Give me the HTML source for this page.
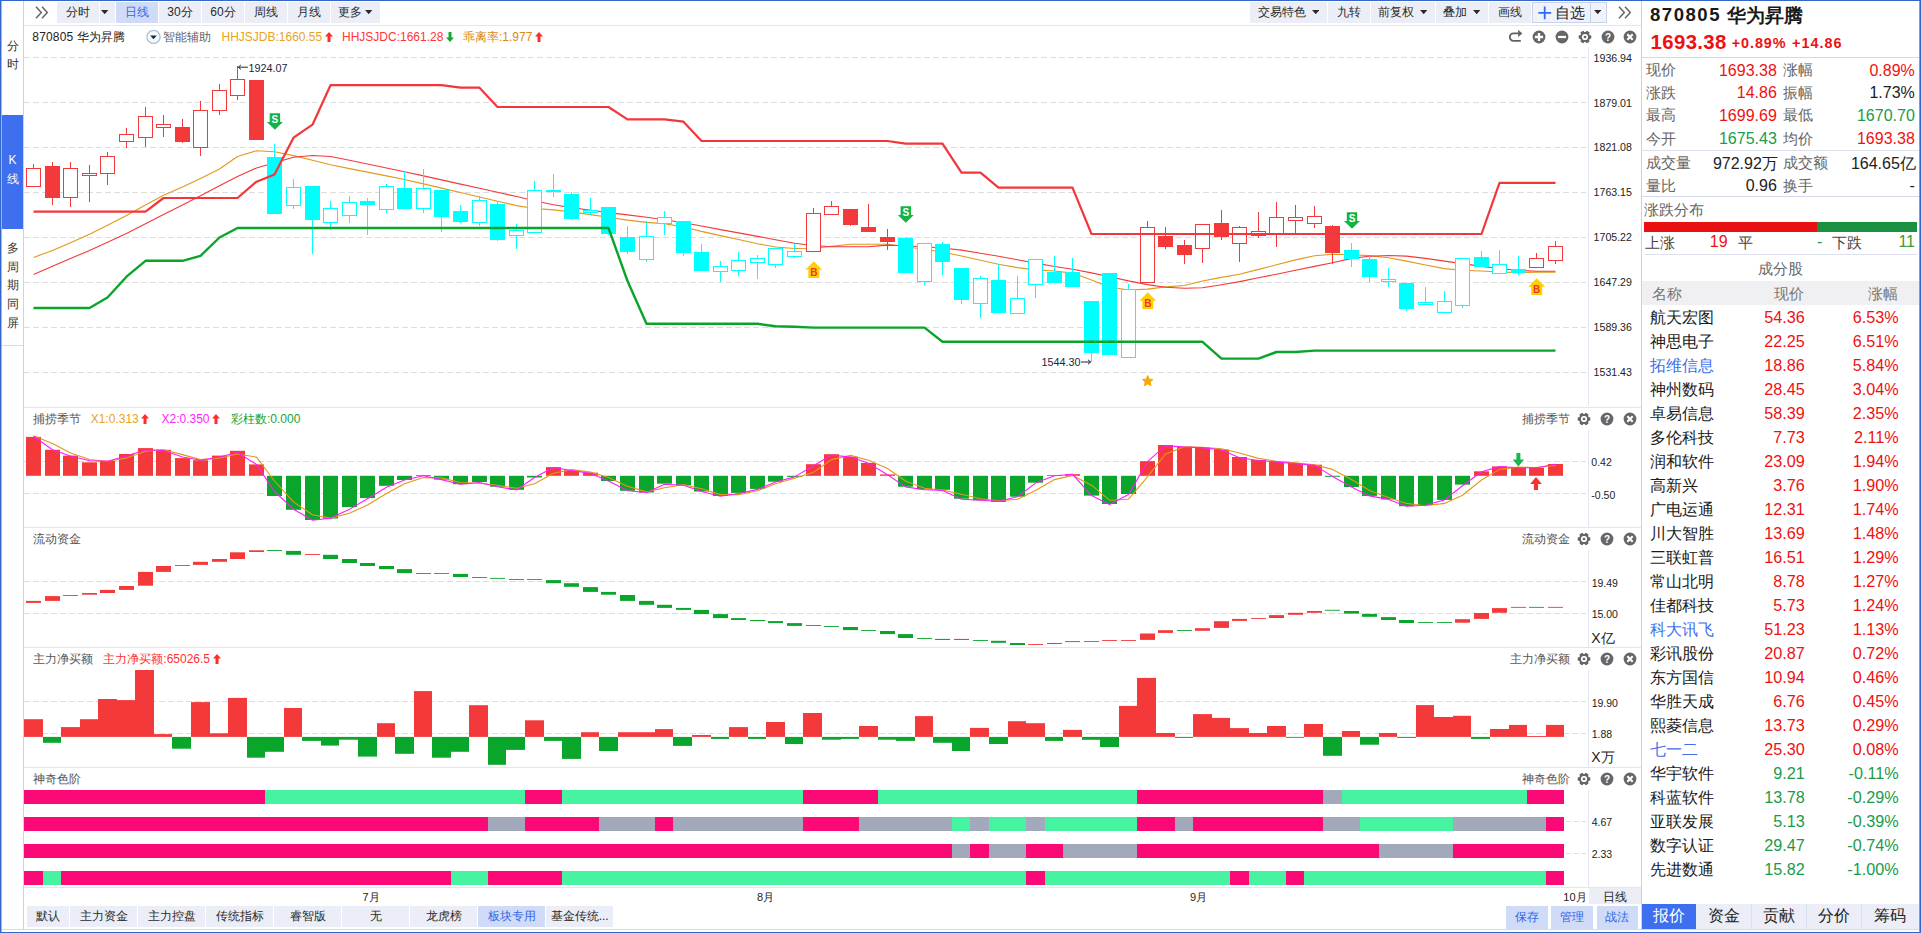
<!DOCTYPE html>
<html lang="zh"><head><meta charset="utf-8"><title>870805 华为昇腾</title><style>
html,body{margin:0;padding:0;background:#fff}
body{width:1921px;height:933px;position:relative;overflow:hidden;font-family:"Liberation Sans",sans-serif}
.t{position:absolute;white-space:nowrap;font-family:"Liberation Sans",sans-serif}
.b{position:absolute}
.bt{text-align:center}
.ar{display:inline-block;vertical-align:-1px;margin-left:2.5px}
.tri{display:inline-block;vertical-align:2px;margin-left:3px}
.b>.tri{display:block;margin:0}
</style></head><body>
<svg width="1921" height="933" viewBox="0 0 1921 933" style="position:absolute;left:0;top:0"><line x1="24" y1="57.5" x2="1586" y2="57.5" stroke="#DCDCDC" stroke-width="1" stroke-dasharray="6 3"/>
<line x1="24" y1="102.5" x2="1586" y2="102.5" stroke="#DCDCDC" stroke-width="1" stroke-dasharray="6 3"/>
<line x1="24" y1="147.5" x2="1586" y2="147.5" stroke="#DCDCDC" stroke-width="1" stroke-dasharray="6 3"/>
<line x1="24" y1="192.5" x2="1586" y2="192.5" stroke="#DCDCDC" stroke-width="1" stroke-dasharray="6 3"/>
<line x1="24" y1="237.5" x2="1586" y2="237.5" stroke="#DCDCDC" stroke-width="1" stroke-dasharray="6 3"/>
<line x1="24" y1="282.5" x2="1586" y2="282.5" stroke="#DCDCDC" stroke-width="1" stroke-dasharray="6 3"/>
<line x1="24" y1="327.5" x2="1586" y2="327.5" stroke="#DCDCDC" stroke-width="1" stroke-dasharray="6 3"/>
<line x1="24" y1="372.5" x2="1586" y2="372.5" stroke="#DCDCDC" stroke-width="1" stroke-dasharray="6 3"/>
<rect x="24" y="25" width="1617" height="1" fill="#E3E6F2"/>
<rect x="24" y="407" width="1617" height="1" fill="#E3E6F2"/>
<rect x="24" y="527" width="1617" height="1" fill="#E3E6F2"/>
<rect x="24" y="647" width="1617" height="1" fill="#E3E6F2"/>
<rect x="24" y="767" width="1617" height="1" fill="#E3E6F2"/>
<rect x="24" y="887" width="1617" height="1" fill="#E3E6F2"/>
<rect x="1588" y="47" width="1" height="359" fill="#E3E6F2"/>
<rect x="1588" y="430" width="1" height="97" fill="#E3E6F2"/>
<rect x="1588" y="550" width="1" height="97" fill="#E3E6F2"/>
<rect x="1588" y="670" width="1" height="97" fill="#E3E6F2"/>
<rect x="1588" y="790" width="1" height="97" fill="#E3E6F2"/>
<polyline points="33.5,257.4 52.5,250.5 70.5,242.7 89.5,234.3 107.5,225.2 126.5,215.4 145.5,205.1 163.5,195.3 182.5,187.1 200.5,178.6 219.5,169 237.5,156.5 256.5,150.7 274.5,151.8 293.5,155.6 312.5,160.3 330.5,164.8 349.5,168.6 367.5,172.1 386.5,175.9 404.5,179.5 423.5,183.9 441.5,188.1 460.5,192.5 479.5,197 497.5,201.2 516.5,205.6 534.5,208.5 553.5,209.9 571.5,211.9 590.5,214.6 608.5,217.3 627.5,220.1 646.5,222.4 664.5,223.6 683.5,227 701.5,231.4 720.5,235.6 738.5,239.5 757.5,243.7 775.5,247 794.5,248.5 813.5,248.3 831.5,246.4 850.5,244.3 868.5,244.3 887.5,244.3 905.5,246.8 924.5,249.3 942.5,252 961.5,256 980.5,260.3 998.5,264.2 1017.5,267.6 1035.5,269.9 1054.5,271 1072.5,273.1 1091.5,279.9 1109.5,287 1128.5,290 1147.5,289.1 1165.5,286.9 1184.5,285.5 1202.5,281 1221.5,277.4 1239.5,274.3 1258.5,269.4 1276.5,264.8 1295.5,259.9 1314.5,255.7 1332.5,254.3 1351.5,254.7 1369.5,255.6 1388.5,257.7 1406.5,261.1 1425.5,265 1444.5,268.6 1462.5,270.2 1481.5,271 1499.5,272 1518.5,272.6 1536.5,272.3 1555.5,272.2" fill="none" stroke="#E2981C" stroke-width="1.1" stroke-linejoin="round" />
<polyline points="33.5,274.6 52.5,266.3 70.5,258.5 89.5,250.5 107.5,242.2 126.5,233.4 145.5,223.7 163.5,214.5 182.5,204.9 200.5,195.8 219.5,185.7 237.5,176.4 256.5,168 274.5,162.8 293.5,157.3 312.5,155.5 330.5,156.5 349.5,160.3 367.5,164 386.5,168 404.5,171.7 423.5,175.9 441.5,179.9 460.5,184.1 479.5,188.3 497.5,192.3 516.5,196.5 534.5,200.7 553.5,204.7 571.5,207.6 590.5,210.3 608.5,212.6 627.5,214.9 646.5,217.3 664.5,219.7 683.5,222.7 701.5,226 720.5,229.6 738.5,232.9 757.5,236.4 775.5,239.8 794.5,243.3 813.5,245.5 831.5,246.7 850.5,246.7 868.5,246.7 887.5,245.1 905.5,245.7 924.5,246.8 942.5,248 961.5,250.1 980.5,253.2 998.5,256.2 1017.5,259.7 1035.5,263.1 1054.5,266.5 1072.5,269.3 1091.5,272.9 1109.5,276.7 1128.5,280.9 1147.5,284.6 1165.5,287.2 1184.5,288.3 1202.5,287.7 1221.5,284.7 1239.5,281.6 1258.5,277.8 1276.5,274.2 1295.5,270.3 1314.5,266.4 1332.5,262.7 1351.5,258.4 1369.5,256.3 1388.5,255.5 1406.5,256.1 1425.5,258.4 1444.5,261.1 1462.5,263.6 1481.5,266.4 1499.5,268.5 1518.5,270.4 1536.5,271.3 1555.5,271.3" fill="none" stroke="#F4393B" stroke-width="1.1" stroke-linejoin="round" />
<rect x="33" y="164" width="1" height="23" fill="#F4393B"/>
<rect x="26.5" y="168.5" width="14" height="18" fill="#fff" stroke="#F4393B" stroke-width="1"/>
<rect x="52" y="162" width="1" height="43" fill="#F4393B"/>
<rect x="45" y="166" width="15" height="32" fill="#F4393B"/>
<rect x="70" y="162" width="1" height="45" fill="#F4393B"/>
<rect x="63.5" y="168.5" width="14" height="29" fill="#fff" stroke="#F4393B" stroke-width="1"/>
<rect x="89" y="165" width="1" height="37" fill="#F4393B"/>
<rect x="82.5" y="173.5" width="14" height="2" fill="#fff" stroke="#F4393B" stroke-width="1"/>
<rect x="107" y="152" width="1" height="33" fill="#F4393B"/>
<rect x="100.5" y="156.5" width="14" height="17" fill="#fff" stroke="#F4393B" stroke-width="1"/>
<rect x="126" y="128" width="1" height="20" fill="#F4393B"/>
<rect x="119.5" y="134.5" width="14" height="7" fill="#fff" stroke="#F4393B" stroke-width="1"/>
<rect x="145" y="107" width="1" height="40" fill="#F4393B"/>
<rect x="138.5" y="116.5" width="14" height="21" fill="#fff" stroke="#F4393B" stroke-width="1"/>
<rect x="163" y="115" width="1" height="22" fill="#F4393B"/>
<rect x="156.5" y="124.5" width="14" height="3" fill="#fff" stroke="#F4393B" stroke-width="1"/>
<rect x="182" y="119" width="1" height="24" fill="#F4393B"/>
<rect x="175" y="127" width="15" height="15" fill="#F4393B"/>
<rect x="200" y="101" width="1" height="55" fill="#F4393B"/>
<rect x="193.5" y="110.5" width="14" height="37" fill="#fff" stroke="#F4393B" stroke-width="1"/>
<rect x="219" y="84" width="1" height="31" fill="#F4393B"/>
<rect x="212.5" y="90.5" width="14" height="20" fill="#fff" stroke="#F4393B" stroke-width="1"/>
<rect x="237" y="66" width="1" height="34" fill="#F4393B"/>
<rect x="230.5" y="79.5" width="14" height="16" fill="#fff" stroke="#F4393B" stroke-width="1"/>
<rect x="256" y="80" width="1" height="60" fill="#F4393B"/>
<rect x="249" y="80" width="15" height="60" fill="#F4393B"/>
<rect x="274" y="144" width="1" height="70" fill="#00FFFF"/>
<rect x="267" y="157" width="15" height="57" fill="#00FFFF"/>
<rect x="293" y="179" width="1" height="30" fill="#00FFFF"/>
<rect x="286.5" y="187.5" width="14" height="18" fill="#fff" stroke="#00FFFF" stroke-width="1"/>
<rect x="312" y="186" width="1" height="68" fill="#00FFFF"/>
<rect x="305" y="186" width="15" height="34" fill="#00FFFF"/>
<rect x="330" y="201" width="1" height="29" fill="#00FFFF"/>
<rect x="323.5" y="208.5" width="14" height="14" fill="#fff" stroke="#00FFFF" stroke-width="1"/>
<rect x="349" y="196" width="1" height="27" fill="#00FFFF"/>
<rect x="342.5" y="202.5" width="14" height="13" fill="#fff" stroke="#00FFFF" stroke-width="1"/>
<rect x="367" y="198" width="1" height="37" fill="#00FFFF"/>
<rect x="360" y="201" width="15" height="4" fill="#00FFFF"/>
<rect x="386" y="184" width="1" height="29" fill="#00FFFF"/>
<rect x="379.5" y="186.5" width="14" height="23" fill="#fff" stroke="#00FFFF" stroke-width="1"/>
<rect x="404" y="171" width="1" height="38" fill="#00FFFF"/>
<rect x="397" y="188" width="15" height="21" fill="#00FFFF"/>
<rect x="423" y="169" width="1" height="44" fill="#00FFFF"/>
<rect x="416.5" y="188.5" width="14" height="20" fill="#fff" stroke="#00FFFF" stroke-width="1"/>
<rect x="441" y="190" width="1" height="42" fill="#00FFFF"/>
<rect x="434" y="190" width="15" height="27" fill="#00FFFF"/>
<rect x="460" y="205" width="1" height="18" fill="#00FFFF"/>
<rect x="453" y="211" width="15" height="11" fill="#00FFFF"/>
<rect x="479" y="196" width="1" height="30" fill="#00FFFF"/>
<rect x="472.5" y="200.5" width="14" height="22" fill="#fff" stroke="#00FFFF" stroke-width="1"/>
<rect x="497" y="201" width="1" height="40" fill="#00FFFF"/>
<rect x="490" y="204" width="15" height="36" fill="#00FFFF"/>
<rect x="516" y="224" width="1" height="25" fill="#00FFFF"/>
<rect x="509.5" y="230.5" width="14" height="5" fill="#fff" stroke="#00FFFF" stroke-width="1"/>
<rect x="534" y="181" width="1" height="52" fill="#00FFFF"/>
<rect x="527.5" y="190.5" width="14" height="42" fill="#fff" stroke="#00FFFF" stroke-width="1"/>
<rect x="553" y="174" width="1" height="23" fill="#00FFFF"/>
<rect x="546" y="190" width="15" height="2" fill="#00FFFF"/>
<rect x="571" y="192" width="1" height="28" fill="#00FFFF"/>
<rect x="564" y="194" width="15" height="25" fill="#00FFFF"/>
<rect x="590" y="198" width="1" height="17" fill="#00FFFF"/>
<rect x="583.5" y="210.5" width="14" height="2" fill="#fff" stroke="#00FFFF" stroke-width="1"/>
<rect x="608" y="207" width="1" height="28" fill="#00FFFF"/>
<rect x="601" y="207" width="15" height="27" fill="#00FFFF"/>
<rect x="627" y="226" width="1" height="28" fill="#00FFFF"/>
<rect x="620" y="237" width="15" height="15" fill="#00FFFF"/>
<rect x="646" y="221" width="1" height="41" fill="#00FFFF"/>
<rect x="639.5" y="236.5" width="14" height="23" fill="#fff" stroke="#00FFFF" stroke-width="1"/>
<rect x="664" y="211" width="1" height="24" fill="#00FFFF"/>
<rect x="657.5" y="217.5" width="14" height="6" fill="#fff" stroke="#00FFFF" stroke-width="1"/>
<rect x="683" y="221" width="1" height="35" fill="#00FFFF"/>
<rect x="676" y="221" width="15" height="32" fill="#00FFFF"/>
<rect x="701" y="244" width="1" height="27" fill="#00FFFF"/>
<rect x="694" y="252" width="15" height="19" fill="#00FFFF"/>
<rect x="720" y="261" width="1" height="21" fill="#00FFFF"/>
<rect x="713.5" y="266.5" width="14" height="5" fill="#fff" stroke="#00FFFF" stroke-width="1"/>
<rect x="738" y="252" width="1" height="24" fill="#00FFFF"/>
<rect x="731.5" y="260.5" width="14" height="10" fill="#fff" stroke="#00FFFF" stroke-width="1"/>
<rect x="757" y="255" width="1" height="24" fill="#00FFFF"/>
<rect x="750.5" y="258.5" width="14" height="4" fill="#fff" stroke="#00FFFF" stroke-width="1"/>
<rect x="775" y="248" width="1" height="20" fill="#00FFFF"/>
<rect x="768.5" y="248.5" width="14" height="16" fill="#fff" stroke="#00FFFF" stroke-width="1"/>
<rect x="794" y="244" width="1" height="14" fill="#00FFFF"/>
<rect x="787.5" y="251.5" width="14" height="5" fill="#fff" stroke="#00FFFF" stroke-width="1"/>
<rect x="813" y="208" width="1" height="44" fill="#F4393B"/>
<rect x="806.5" y="213.5" width="14" height="38" fill="#fff" stroke="#F4393B" stroke-width="1"/>
<rect x="831" y="201" width="1" height="14" fill="#F4393B"/>
<rect x="824.5" y="206.5" width="14" height="8" fill="#fff" stroke="#F4393B" stroke-width="1"/>
<rect x="850" y="209" width="1" height="17" fill="#F4393B"/>
<rect x="843" y="209" width="15" height="16" fill="#F4393B"/>
<rect x="868" y="204" width="1" height="28" fill="#F4393B"/>
<rect x="861" y="227" width="15" height="5" fill="#F4393B"/>
<rect x="887" y="229" width="1" height="21" fill="#F4393B"/>
<rect x="880" y="237" width="15" height="5" fill="#F4393B"/>
<rect x="905" y="237" width="1" height="36" fill="#00FFFF"/>
<rect x="898" y="238" width="15" height="35" fill="#00FFFF"/>
<rect x="924" y="243" width="1" height="42" fill="#00FFFF"/>
<rect x="917.5" y="243.5" width="14" height="38" fill="#fff" stroke="#00FFFF" stroke-width="1"/>
<rect x="942" y="242" width="1" height="33" fill="#00FFFF"/>
<rect x="935" y="244" width="15" height="18" fill="#00FFFF"/>
<rect x="961" y="268" width="1" height="36" fill="#00FFFF"/>
<rect x="954" y="268" width="15" height="32" fill="#00FFFF"/>
<rect x="980" y="276" width="1" height="42" fill="#00FFFF"/>
<rect x="973.5" y="278.5" width="14" height="25" fill="#fff" stroke="#00FFFF" stroke-width="1"/>
<rect x="998" y="264" width="1" height="49" fill="#00FFFF"/>
<rect x="991" y="280" width="15" height="33" fill="#00FFFF"/>
<rect x="1017" y="276" width="1" height="38" fill="#00FFFF"/>
<rect x="1010.5" y="298.5" width="14" height="15" fill="#fff" stroke="#00FFFF" stroke-width="1"/>
<rect x="1035" y="259" width="1" height="39" fill="#00FFFF"/>
<rect x="1028.5" y="259.5" width="14" height="25" fill="#fff" stroke="#00FFFF" stroke-width="1"/>
<rect x="1054" y="256" width="1" height="27" fill="#00FFFF"/>
<rect x="1047" y="272" width="15" height="11" fill="#00FFFF"/>
<rect x="1072" y="258" width="1" height="29" fill="#00FFFF"/>
<rect x="1065" y="272" width="15" height="15" fill="#00FFFF"/>
<rect x="1091" y="301" width="1" height="61" fill="#00FFFF"/>
<rect x="1084" y="301" width="15" height="52" fill="#00FFFF"/>
<rect x="1109" y="273" width="1" height="82" fill="#00FFFF"/>
<rect x="1102" y="273" width="15" height="82" fill="#00FFFF"/>
<rect x="1128" y="284" width="1" height="74" fill="#00FFFF"/>
<rect x="1121.5" y="289.5" width="14" height="68" fill="#fff" stroke="#00FFFF" stroke-width="1"/>
<rect x="1147" y="221" width="1" height="62" fill="#F4393B"/>
<rect x="1140.5" y="227.5" width="14" height="55" fill="#fff" stroke="#F4393B" stroke-width="1"/>
<rect x="1165" y="227" width="1" height="22" fill="#F4393B"/>
<rect x="1158" y="236" width="15" height="11" fill="#F4393B"/>
<rect x="1184" y="240" width="1" height="24" fill="#F4393B"/>
<rect x="1177" y="245" width="15" height="10" fill="#F4393B"/>
<rect x="1202" y="224" width="1" height="39" fill="#F4393B"/>
<rect x="1195.5" y="224.5" width="14" height="24" fill="#fff" stroke="#F4393B" stroke-width="1"/>
<rect x="1221" y="210" width="1" height="30" fill="#F4393B"/>
<rect x="1214" y="223" width="15" height="14" fill="#F4393B"/>
<rect x="1239" y="226" width="1" height="36" fill="#F4393B"/>
<rect x="1232.5" y="227.5" width="14" height="16" fill="#fff" stroke="#F4393B" stroke-width="1"/>
<rect x="1258" y="212" width="1" height="26" fill="#F4393B"/>
<rect x="1251.5" y="231.5" width="14" height="4" fill="#fff" stroke="#F4393B" stroke-width="1"/>
<rect x="1276" y="202" width="1" height="45" fill="#F4393B"/>
<rect x="1269.5" y="217.5" width="14" height="16" fill="#fff" stroke="#F4393B" stroke-width="1"/>
<rect x="1295" y="205" width="1" height="29" fill="#F4393B"/>
<rect x="1288.5" y="217.5" width="14" height="3" fill="#fff" stroke="#F4393B" stroke-width="1"/>
<rect x="1314" y="206" width="1" height="22" fill="#F4393B"/>
<rect x="1307.5" y="216.5" width="14" height="7" fill="#fff" stroke="#F4393B" stroke-width="1"/>
<rect x="1332" y="225" width="1" height="39" fill="#F4393B"/>
<rect x="1325" y="226" width="15" height="27" fill="#F4393B"/>
<rect x="1351" y="243" width="1" height="24" fill="#00FFFF"/>
<rect x="1344" y="250" width="15" height="9" fill="#00FFFF"/>
<rect x="1369" y="256" width="1" height="26" fill="#00FFFF"/>
<rect x="1362" y="259" width="15" height="18" fill="#00FFFF"/>
<rect x="1388" y="268" width="1" height="19" fill="#00FFFF"/>
<rect x="1381.5" y="279.5" width="14" height="2" fill="#fff" stroke="#00FFFF" stroke-width="1"/>
<rect x="1406" y="283" width="1" height="28" fill="#00FFFF"/>
<rect x="1399" y="283" width="15" height="26" fill="#00FFFF"/>
<rect x="1425" y="287" width="1" height="18" fill="#00FFFF"/>
<rect x="1418.5" y="302.5" width="14" height="2" fill="#fff" stroke="#00FFFF" stroke-width="1"/>
<rect x="1444" y="291" width="1" height="22" fill="#00FFFF"/>
<rect x="1437.5" y="301.5" width="14" height="11" fill="#fff" stroke="#00FFFF" stroke-width="1"/>
<rect x="1462" y="258" width="1" height="50" fill="#00FFFF"/>
<rect x="1455.5" y="258.5" width="14" height="47" fill="#fff" stroke="#00FFFF" stroke-width="1"/>
<rect x="1481" y="251" width="1" height="16" fill="#00FFFF"/>
<rect x="1474" y="257" width="15" height="10" fill="#00FFFF"/>
<rect x="1499" y="250" width="1" height="24" fill="#00FFFF"/>
<rect x="1492.5" y="264.5" width="14" height="9" fill="#fff" stroke="#00FFFF" stroke-width="1"/>
<rect x="1518" y="256" width="1" height="19" fill="#00FFFF"/>
<rect x="1511" y="269" width="15" height="4" fill="#00FFFF"/>
<rect x="1536" y="253" width="1" height="15" fill="#F4393B"/>
<rect x="1529.5" y="258.5" width="14" height="9" fill="#fff" stroke="#F4393B" stroke-width="1"/>
<rect x="1555" y="241" width="1" height="23" fill="#F4393B"/>
<rect x="1548.5" y="246.5" width="14" height="14" fill="#fff" stroke="#F4393B" stroke-width="1"/>
<polyline points="33.5,211.7 52.5,211.7 70.5,211.7 89.5,211.7 107.5,211.7 126.5,211.7 145.5,211.7 163.5,198 182.5,198 200.5,198 219.5,198 237.5,198 256.5,181.7 274.5,174.5 293.5,137.7 312.5,124.7 330.5,85.2 349.5,85.2 367.5,85.2 386.5,85.2 404.5,85.2 423.5,85.2 441.5,85.2 460.5,87.7 479.5,87.7 497.5,107 516.5,107 534.5,107 553.5,107 571.5,107 590.5,107 608.5,107 627.5,119.3 646.5,119.3 664.5,119.3 683.5,121.7 701.5,141 720.5,141 738.5,141 757.5,141 775.5,141 794.5,141 813.5,141 831.5,141 850.5,141 868.5,141 887.5,141 905.5,143.7 924.5,143.7 942.5,143.7 961.5,172.7 980.5,172.7 998.5,187.7 1017.5,187.7 1035.5,187.7 1054.5,187.7 1072.5,187.7 1091.5,234 1109.5,234 1128.5,234 1147.5,234 1165.5,234 1184.5,234 1202.5,234 1221.5,234 1239.5,234 1258.5,234 1276.5,234 1295.5,234 1314.5,234 1332.5,234 1351.5,234 1369.5,234 1388.5,234 1406.5,234 1425.5,234 1444.5,234 1462.5,234 1481.5,234 1499.5,182.8 1518.5,182.8 1536.5,182.8 1555.5,182.8" fill="none" stroke="#F2373A" stroke-width="2.2" stroke-linejoin="round" />
<polyline points="33.5,308 52.5,308 70.5,308 89.5,308 107.5,297.5 126.5,276.7 145.5,260.8 163.5,260.8 182.5,260.8 200.5,255.8 219.5,237.5 237.5,228 256.5,228 274.5,228 293.5,228 312.5,228 330.5,228 349.5,228 367.5,228 386.5,228 404.5,228 423.5,228 441.5,228 460.5,228 479.5,228 497.5,228 516.5,228 534.5,228 553.5,228 571.5,228 590.5,228 608.5,228 627.5,281 646.5,323.8 664.5,323.8 683.5,323.8 701.5,323.8 720.5,323.8 738.5,323.8 757.5,323.8 775.5,326.3 794.5,326.8 813.5,327.6 831.5,327.6 850.5,327.6 868.5,327.6 887.5,327.6 905.5,327.6 924.5,327.6 942.5,341.8 961.5,341.8 980.5,341.8 998.5,341.8 1017.5,341.8 1035.5,341.8 1054.5,341.8 1072.5,341.8 1091.5,341.8 1109.5,341.8 1128.5,341.8 1147.5,341.8 1165.5,341.8 1184.5,341.8 1202.5,341.8 1221.5,358.6 1239.5,358.6 1258.5,358.6 1276.5,352 1295.5,352 1314.5,350.6 1332.5,350.6 1351.5,350.6 1369.5,350.6 1388.5,350.6 1406.5,350.6 1425.5,350.6 1444.5,350.6 1462.5,350.6 1481.5,350.6 1499.5,350.6 1518.5,350.6 1536.5,350.6 1555.5,350.6" fill="none" stroke="#0BA42A" stroke-width="2.4" stroke-linejoin="round" />
<path d="M269.7 113.2h10.4v8.8h2.8l-8 7.8l-8 -7.8h2.8z" fill="#12B347"/>
<text x="274.9" y="122.5" font-family="Liberation Sans, sans-serif" font-size="10" font-weight="700" fill="#fff" text-anchor="middle">S</text>
<path d="M900.6 206.2h10.4v8.8h2.8l-8 7.8l-8 -7.8h2.8z" fill="#12B347"/>
<text x="905.8" y="215.5" font-family="Liberation Sans, sans-serif" font-size="10" font-weight="700" fill="#fff" text-anchor="middle">S</text>
<path d="M1346.8 212.2h10.4v8.8h2.8l-8 7.8l-8 -7.8h2.8z" fill="#12B347"/>
<text x="1352" y="221.5" font-family="Liberation Sans, sans-serif" font-size="10" font-weight="700" fill="#fff" text-anchor="middle">S</text>
<path d="M813.8 261.3l8.4 8.4h-2.9v8.3h-11v-8.3h-2.9z" fill="#FFD000"/>
<text x="813.8" y="276.3" font-family="Liberation Sans, sans-serif" font-size="10" font-weight="700" fill="#F03535" text-anchor="middle">B</text>
<path d="M1147.8 292.3l8.4 8.4h-2.9v8.3h-11v-8.3h-2.9z" fill="#FFD000"/>
<text x="1147.8" y="307.3" font-family="Liberation Sans, sans-serif" font-size="10" font-weight="700" fill="#F03535" text-anchor="middle">B</text>
<path d="M1536.7 278.3l8.4 8.4h-2.9v8.3h-11v-8.3h-2.9z" fill="#FFD000"/>
<text x="1536.7" y="293.3" font-family="Liberation Sans, sans-serif" font-size="10" font-weight="700" fill="#F03535" text-anchor="middle">B</text>
<polygon points="1147.7,375.6 1149.2,379.1 1153,379.5 1150.2,382 1151,385.7 1147.7,383.8 1144.4,385.7 1145.2,382 1142.4,379.5 1146.2,379.1" fill="#F6AA0A" stroke="#F6AA0A" stroke-width="1" stroke-linejoin="round"/>
<path d="M238.3 67.2h9.6M238.3 67.2l2.6 -2.2M238.3 67.2l2.6 2.2" stroke="#1B2540" stroke-width="1" fill="none"/>
<path d="M1081 362h9.6M1090.6 362l-2.6 -2.2M1090.6 362l-2.6 2.2" stroke="#1B2540" stroke-width="1" fill="none"/>
<line x1="24" y1="461.5" x2="1586" y2="461.5" stroke="#DCDCDC" stroke-width="1" stroke-dasharray="6 3"/>
<line x1="24" y1="493.5" x2="1586" y2="493.5" stroke="#DCDCDC" stroke-width="1" stroke-dasharray="6 3"/>
<rect x="26" y="436.9" width="15" height="38.9" fill="#F4393B"/>
<rect x="45" y="449.8" width="15" height="26" fill="#F4393B"/>
<rect x="63" y="455.6" width="15" height="20.2" fill="#F4393B"/>
<rect x="82" y="462.3" width="15" height="13.5" fill="#F4393B"/>
<rect x="100" y="460.8" width="15" height="15" fill="#F4393B"/>
<rect x="119" y="454" width="15" height="21.8" fill="#F4393B"/>
<rect x="138" y="448.1" width="15" height="27.7" fill="#F4393B"/>
<rect x="156" y="449.8" width="15" height="26" fill="#F4393B"/>
<rect x="175" y="458.1" width="15" height="17.7" fill="#F4393B"/>
<rect x="193" y="460.2" width="15" height="15.6" fill="#F4393B"/>
<rect x="212" y="455.6" width="15" height="20.2" fill="#F4393B"/>
<rect x="230" y="450.8" width="15" height="25" fill="#F4393B"/>
<rect x="249" y="464.4" width="15" height="11.4" fill="#F4393B"/>
<rect x="267" y="475.8" width="15" height="20.2" fill="#0AA52B"/>
<rect x="286" y="475.8" width="15" height="34" fill="#0AA52B"/>
<rect x="305" y="475.8" width="15" height="44.2" fill="#0AA52B"/>
<rect x="323" y="475.8" width="15" height="42.7" fill="#0AA52B"/>
<rect x="342" y="475.8" width="15" height="31.3" fill="#0AA52B"/>
<rect x="360" y="475.8" width="15" height="22.3" fill="#0AA52B"/>
<rect x="379" y="475.8" width="15" height="10" fill="#0AA52B"/>
<rect x="397" y="475.8" width="15" height="4.2" fill="#0AA52B"/>
<rect x="416" y="475" width="15" height="0.8" fill="#F4393B"/>
<rect x="434" y="475.8" width="15" height="3.8" fill="#0AA52B"/>
<rect x="453" y="475.8" width="15" height="8.4" fill="#0AA52B"/>
<rect x="472" y="475.8" width="15" height="6.2" fill="#0AA52B"/>
<rect x="490" y="475.8" width="15" height="10.9" fill="#0AA52B"/>
<rect x="509" y="475.8" width="15" height="14" fill="#0AA52B"/>
<rect x="527" y="475.8" width="15" height="1.7" fill="#0AA52B"/>
<rect x="546" y="467.1" width="15" height="8.7" fill="#F4393B"/>
<rect x="564" y="470.6" width="15" height="5.2" fill="#F4393B"/>
<rect x="583" y="472.7" width="15" height="3.1" fill="#F4393B"/>
<rect x="601" y="475.8" width="15" height="5.2" fill="#0AA52B"/>
<rect x="620" y="475.8" width="15" height="15" fill="#0AA52B"/>
<rect x="639" y="475.8" width="15" height="16.7" fill="#0AA52B"/>
<rect x="657" y="475.8" width="15" height="7.9" fill="#0AA52B"/>
<rect x="676" y="475.8" width="15" height="9.4" fill="#0AA52B"/>
<rect x="694" y="475.8" width="15" height="15.7" fill="#0AA52B"/>
<rect x="713" y="475.8" width="15" height="20.2" fill="#0AA52B"/>
<rect x="731" y="475.8" width="15" height="17.1" fill="#0AA52B"/>
<rect x="750" y="475.8" width="15" height="13.1" fill="#0AA52B"/>
<rect x="768" y="475.8" width="15" height="5.9" fill="#0AA52B"/>
<rect x="787" y="475.8" width="15" height="1.1" fill="#0AA52B"/>
<rect x="806" y="464.2" width="15" height="11.6" fill="#F4393B"/>
<rect x="824" y="454.2" width="15" height="21.6" fill="#F4393B"/>
<rect x="843" y="456.7" width="15" height="19.1" fill="#F4393B"/>
<rect x="861" y="462.9" width="15" height="12.9" fill="#F4393B"/>
<rect x="880" y="474.4" width="15" height="1.4" fill="#F4393B"/>
<rect x="898" y="475.8" width="15" height="10.9" fill="#0AA52B"/>
<rect x="917" y="475.8" width="15" height="13.6" fill="#0AA52B"/>
<rect x="935" y="475.8" width="15" height="14" fill="#0AA52B"/>
<rect x="954" y="475.8" width="15" height="22.9" fill="#0AA52B"/>
<rect x="973" y="475.8" width="15" height="24.4" fill="#0AA52B"/>
<rect x="991" y="475.8" width="15" height="26.1" fill="#0AA52B"/>
<rect x="1010" y="475.8" width="15" height="20.9" fill="#0AA52B"/>
<rect x="1028" y="475.8" width="15" height="6.9" fill="#0AA52B"/>
<rect x="1047" y="475" width="15" height="0.8" fill="#F4393B"/>
<rect x="1065" y="474.2" width="15" height="1.6" fill="#F4393B"/>
<rect x="1084" y="475.8" width="15" height="19.8" fill="#0AA52B"/>
<rect x="1102" y="475.8" width="15" height="28.2" fill="#0AA52B"/>
<rect x="1121" y="475.8" width="15" height="18.2" fill="#0AA52B"/>
<rect x="1140" y="461.2" width="15" height="14.6" fill="#F4393B"/>
<rect x="1158" y="445" width="15" height="30.8" fill="#F4393B"/>
<rect x="1177" y="446.7" width="15" height="29.1" fill="#F4393B"/>
<rect x="1195" y="447.4" width="15" height="28.4" fill="#F4393B"/>
<rect x="1214" y="449.5" width="15" height="26.3" fill="#F4393B"/>
<rect x="1232" y="457" width="15" height="18.8" fill="#F4393B"/>
<rect x="1251" y="460" width="15" height="15.8" fill="#F4393B"/>
<rect x="1269" y="461.7" width="15" height="14.1" fill="#F4393B"/>
<rect x="1288" y="463.1" width="15" height="12.7" fill="#F4393B"/>
<rect x="1307" y="464.7" width="15" height="11.1" fill="#F4393B"/>
<rect x="1325" y="475.8" width="15" height="1" fill="#0AA52B"/>
<rect x="1344" y="475.8" width="15" height="11.2" fill="#0AA52B"/>
<rect x="1362" y="475.8" width="15" height="20.1" fill="#0AA52B"/>
<rect x="1381" y="475.8" width="15" height="23.6" fill="#0AA52B"/>
<rect x="1399" y="475.8" width="15" height="30.4" fill="#0AA52B"/>
<rect x="1418" y="475.8" width="15" height="29.2" fill="#0AA52B"/>
<rect x="1437" y="475.8" width="15" height="24.1" fill="#0AA52B"/>
<rect x="1455" y="475.8" width="15" height="8.8" fill="#0AA52B"/>
<rect x="1474" y="471.3" width="15" height="4.5" fill="#F4393B"/>
<rect x="1492" y="466.4" width="15" height="9.4" fill="#F4393B"/>
<rect x="1511" y="467.8" width="15" height="8" fill="#F4393B"/>
<rect x="1529" y="467.8" width="15" height="8" fill="#F4393B"/>
<rect x="1548" y="464" width="15" height="11.8" fill="#F4393B"/>
<polyline points="33.5,435.8 52.5,443.5 70.5,452.9 89.5,459.6 107.5,461.2 126.5,458.1 145.5,451.2 163.5,449.8 182.5,454.6 200.5,459.6 219.5,458.1 237.5,454 256.5,457.1 274.5,481 293.5,501.9 312.5,514.8 330.5,518.1 349.5,513.3 367.5,505 386.5,493.5 404.5,483.8 423.5,477.6 441.5,477.9 460.5,482.5 479.5,483.3 497.5,485.2 516.5,488.3 534.5,483.8 553.5,473.3 571.5,469.6 590.5,472.1 608.5,477.5 627.5,486.2 646.5,491.9 664.5,487.7 683.5,484.6 701.5,488.8 720.5,494.6 738.5,494.6 757.5,490.8 775.5,483.8 794.5,478.3 813.5,472.2 831.5,459.6 850.5,455.4 868.5,460.2 887.5,468.5 905.5,481 924.5,488.3 942.5,490 961.5,494.2 980.5,498.8 998.5,500.8 1017.5,499.2 1035.5,490.4 1054.5,479.6 1072.5,475.4 1091.5,485.2 1109.5,500.2 1128.5,499.2 1147.5,476.9 1165.5,454 1184.5,446.7 1202.5,447.4 1221.5,448.8 1239.5,453 1258.5,458.4 1276.5,461.2 1295.5,462.9 1314.5,464.7 1332.5,469.4 1351.5,479.5 1369.5,490.5 1388.5,497.5 1406.5,503.4 1425.5,505.7 1444.5,503.4 1462.5,495.2 1481.5,480 1499.5,469.4 1518.5,467.1 1536.5,467.5 1555.5,465.4" fill="none" stroke="#E2981C" stroke-width="1.1" stroke-linejoin="round" />
<polyline points="33.5,436.3 52.5,449.8 70.5,456 89.5,460.8 107.5,461.2 126.5,456 145.5,449.8 163.5,450.4 182.5,457 200.5,460.2 219.5,457 237.5,452.5 256.5,464.4 274.5,491.5 293.5,509.2 312.5,520.2 330.5,518.1 349.5,509.2 367.5,498.8 386.5,487.3 404.5,480 423.5,475.8 441.5,479.6 460.5,484.2 479.5,482.5 497.5,486.7 516.5,490 534.5,477.5 553.5,467.5 571.5,470.6 590.5,473.3 608.5,481 627.5,490.8 646.5,492.5 664.5,484.2 683.5,485.2 701.5,491.5 720.5,496.2 738.5,493.5 757.5,489.4 775.5,482 794.5,476.9 813.5,465.7 831.5,455 850.5,457.1 868.5,463.3 887.5,474.8 905.5,486.9 924.5,489.8 942.5,490.4 961.5,499.2 980.5,500.2 998.5,501.2 1017.5,496.7 1035.5,483.1 1054.5,475.8 1072.5,474.2 1091.5,495.6 1109.5,504.4 1128.5,494.6 1147.5,461.7 1165.5,445.6 1184.5,447.1 1202.5,447.6 1221.5,450 1239.5,457.7 1258.5,460.5 1276.5,461.9 1295.5,463.6 1314.5,465.2 1332.5,476.4 1351.5,487 1369.5,495.9 1388.5,499.4 1406.5,506.2 1425.5,505.3 1444.5,499.9 1462.5,485.8 1481.5,471.8 1499.5,466.6 1518.5,467.8 1536.5,467.8 1555.5,464.3" fill="none" stroke="#FF1CFF" stroke-width="1.1" stroke-linejoin="round" />
<path d="M1516.4 453h4v6.5h3.6l-5.6 7l-5.6 -7h3.6z" fill="#16B84A"/>
<path d="M1536 477l5.8 7h-3.7v6h-4.2v-6h-3.7z" fill="#F83030"/>
<line x1="24" y1="581.5" x2="1586" y2="581.5" stroke="#DCDCDC" stroke-width="1" stroke-dasharray="6 3"/>
<line x1="24" y1="613.5" x2="1586" y2="613.5" stroke="#DCDCDC" stroke-width="1" stroke-dasharray="6 3"/>
<rect x="26" y="600.9" width="15" height="2" fill="#F4393B"/>
<rect x="45" y="596.1" width="15" height="4.8" fill="#F4393B"/>
<rect x="63" y="595" width="15" height="0.9" fill="#F4393B"/>
<rect x="82" y="593" width="15" height="1.7" fill="#F4393B"/>
<rect x="100" y="589.9" width="15" height="3.1" fill="#F4393B"/>
<rect x="119" y="586" width="15" height="3.9" fill="#F4393B"/>
<rect x="138" y="571.9" width="15" height="13.8" fill="#F4393B"/>
<rect x="156" y="566" width="15" height="5.9" fill="#F4393B"/>
<rect x="175" y="565.1" width="15" height="0.9" fill="#F4393B"/>
<rect x="193" y="561.8" width="15" height="3.1" fill="#F4393B"/>
<rect x="212" y="559" width="15" height="2.8" fill="#F4393B"/>
<rect x="230" y="552.3" width="15" height="6.7" fill="#F4393B"/>
<rect x="249" y="550.3" width="15" height="1.7" fill="#F4393B"/>
<rect x="267" y="550" width="15" height="0.9" fill="#0AA52B"/>
<rect x="286" y="550.9" width="15" height="3.9" fill="#0AA52B"/>
<rect x="305" y="554" width="15" height="0.9" fill="#F4393B"/>
<rect x="323" y="554.8" width="15" height="4.2" fill="#0AA52B"/>
<rect x="342" y="559" width="15" height="4" fill="#0AA52B"/>
<rect x="360" y="563" width="15" height="3" fill="#0AA52B"/>
<rect x="379" y="566" width="15" height="3.1" fill="#0AA52B"/>
<rect x="397" y="569.1" width="15" height="4" fill="#0AA52B"/>
<rect x="416" y="573.1" width="15" height="0.9" fill="#0AA52B"/>
<rect x="434" y="573.1" width="15" height="0.9" fill="#F4393B"/>
<rect x="453" y="573.9" width="15" height="3.1" fill="#0AA52B"/>
<rect x="472" y="577" width="15" height="0.9" fill="#0AA52B"/>
<rect x="490" y="577.9" width="15" height="0.9" fill="#0AA52B"/>
<rect x="509" y="579" width="15" height="0.9" fill="#0AA52B"/>
<rect x="527" y="579" width="15" height="0.9" fill="#F4393B"/>
<rect x="546" y="580.1" width="15" height="3.1" fill="#0AA52B"/>
<rect x="564" y="583.2" width="15" height="3.6" fill="#0AA52B"/>
<rect x="583" y="587.1" width="15" height="4.8" fill="#0AA52B"/>
<rect x="601" y="591.9" width="15" height="2.8" fill="#0AA52B"/>
<rect x="620" y="595" width="15" height="5.9" fill="#0AA52B"/>
<rect x="639" y="600.9" width="15" height="3.9" fill="#0AA52B"/>
<rect x="657" y="604.8" width="15" height="3.1" fill="#0AA52B"/>
<rect x="676" y="607.9" width="15" height="2" fill="#0AA52B"/>
<rect x="694" y="609.9" width="15" height="4.2" fill="#0AA52B"/>
<rect x="713" y="614.1" width="15" height="4" fill="#0AA52B"/>
<rect x="731" y="618.1" width="15" height="1.9" fill="#0AA52B"/>
<rect x="750" y="620" width="15" height="1.1" fill="#0AA52B"/>
<rect x="768" y="621.1" width="15" height="2" fill="#0AA52B"/>
<rect x="787" y="623.1" width="15" height="2.8" fill="#0AA52B"/>
<rect x="806" y="625.1" width="15" height="0.9" fill="#0AA52B"/>
<rect x="824" y="626" width="15" height="0.9" fill="#0AA52B"/>
<rect x="843" y="627" width="15" height="3.1" fill="#0AA52B"/>
<rect x="861" y="630.1" width="15" height="0.9" fill="#0AA52B"/>
<rect x="880" y="631" width="15" height="3.1" fill="#0AA52B"/>
<rect x="898" y="634.1" width="15" height="3.9" fill="#0AA52B"/>
<rect x="917" y="638" width="15" height="0.9" fill="#0AA52B"/>
<rect x="935" y="638.9" width="15" height="1.1" fill="#0AA52B"/>
<rect x="954" y="638.9" width="15" height="1.1" fill="#F4393B"/>
<rect x="973" y="640" width="15" height="0.9" fill="#0AA52B"/>
<rect x="991" y="640.8" width="15" height="2" fill="#0AA52B"/>
<rect x="1010" y="643" width="15" height="2" fill="#0AA52B"/>
<rect x="1028" y="644.1" width="15" height="0.9" fill="#F4393B"/>
<rect x="1047" y="643" width="15" height="1" fill="#F4393B"/>
<rect x="1065" y="641.1" width="15" height="1" fill="#F4393B"/>
<rect x="1084" y="641" width="15" height="0.9" fill="#F4393B"/>
<rect x="1102" y="640.1" width="15" height="0.9" fill="#F4393B"/>
<rect x="1121" y="640.1" width="15" height="0.9" fill="#F4393B"/>
<rect x="1140" y="633.5" width="15" height="6.4" fill="#F4393B"/>
<rect x="1158" y="630.2" width="15" height="2.7" fill="#F4393B"/>
<rect x="1177" y="630" width="15" height="0.9" fill="#0AA52B"/>
<rect x="1195" y="628.2" width="15" height="2.6" fill="#F4393B"/>
<rect x="1214" y="621.2" width="15" height="6.7" fill="#F4393B"/>
<rect x="1232" y="618.9" width="15" height="2" fill="#F4393B"/>
<rect x="1251" y="618" width="15" height="0.9" fill="#F4393B"/>
<rect x="1269" y="615.1" width="15" height="2.9" fill="#F4393B"/>
<rect x="1288" y="612.8" width="15" height="2" fill="#F4393B"/>
<rect x="1307" y="611" width="15" height="1.8" fill="#F4393B"/>
<rect x="1325" y="609.8" width="15" height="0.9" fill="#0AA52B"/>
<rect x="1344" y="611" width="15" height="2.6" fill="#0AA52B"/>
<rect x="1362" y="613.9" width="15" height="2.9" fill="#0AA52B"/>
<rect x="1381" y="617.1" width="15" height="2.9" fill="#0AA52B"/>
<rect x="1399" y="620" width="15" height="3" fill="#0AA52B"/>
<rect x="1418" y="622.1" width="15" height="0.9" fill="#0AA52B"/>
<rect x="1437" y="622.1" width="15" height="0.9" fill="#0AA52B"/>
<rect x="1455" y="619.2" width="15" height="3.5" fill="#F4393B"/>
<rect x="1474" y="613" width="15" height="5.9" fill="#F4393B"/>
<rect x="1492" y="608.1" width="15" height="4.7" fill="#F4393B"/>
<rect x="1511" y="606.9" width="15" height="0.9" fill="#F4393B"/>
<rect x="1529" y="606.9" width="15" height="0.9" fill="#0AA52B"/>
<rect x="1548" y="606.9" width="15" height="0.9" fill="#F4393B"/>
<line x1="24" y1="701.5" x2="1586" y2="701.5" stroke="#DCDCDC" stroke-width="1" stroke-dasharray="6 3"/>
<line x1="24" y1="733.5" x2="1586" y2="733.5" stroke="#DCDCDC" stroke-width="1" stroke-dasharray="6 3"/>
<rect x="24" y="719.2" width="19" height="17.7" fill="#F4393B"/>
<rect x="43" y="736.9" width="18" height="5.9" fill="#0AA52B"/>
<rect x="61" y="727.1" width="19" height="9.8" fill="#F4393B"/>
<rect x="80" y="719.2" width="18" height="17.7" fill="#F4393B"/>
<rect x="98" y="699" width="19" height="37.9" fill="#F4393B"/>
<rect x="117" y="700.1" width="18" height="36.8" fill="#F4393B"/>
<rect x="135" y="670" width="19" height="66.9" fill="#F4393B"/>
<rect x="154" y="734.1" width="18" height="2.8" fill="#F4393B"/>
<rect x="172" y="736.9" width="19" height="11.8" fill="#0AA52B"/>
<rect x="191" y="702.1" width="19" height="34.8" fill="#F4393B"/>
<rect x="210" y="733.3" width="18" height="3.6" fill="#F4393B"/>
<rect x="228" y="697.9" width="19" height="39" fill="#F4393B"/>
<rect x="247" y="736.9" width="18" height="20.8" fill="#0AA52B"/>
<rect x="265" y="736.9" width="19" height="14.9" fill="#0AA52B"/>
<rect x="284" y="708" width="18" height="28.9" fill="#F4393B"/>
<rect x="302" y="736.9" width="19" height="4" fill="#0AA52B"/>
<rect x="321" y="736.9" width="18" height="8.7" fill="#0AA52B"/>
<rect x="339" y="736.9" width="19" height="2.8" fill="#0AA52B"/>
<rect x="358" y="736.9" width="19" height="19.7" fill="#0AA52B"/>
<rect x="377" y="723.2" width="18" height="13.7" fill="#F4393B"/>
<rect x="395" y="736.9" width="19" height="16.9" fill="#0AA52B"/>
<rect x="414" y="691.1" width="18" height="45.8" fill="#F4393B"/>
<rect x="432" y="736.9" width="19" height="20.8" fill="#0AA52B"/>
<rect x="451" y="736.9" width="18" height="14.9" fill="#0AA52B"/>
<rect x="469" y="705.2" width="19" height="31.7" fill="#F4393B"/>
<rect x="488" y="736.9" width="18" height="27.9" fill="#0AA52B"/>
<rect x="506" y="736.9" width="19" height="13" fill="#0AA52B"/>
<rect x="525" y="720.3" width="19" height="16.6" fill="#F4393B"/>
<rect x="544" y="736.9" width="18" height="4" fill="#0AA52B"/>
<rect x="562" y="736.9" width="19" height="22" fill="#0AA52B"/>
<rect x="581" y="732.2" width="18" height="4.7" fill="#F4393B"/>
<rect x="599" y="736.9" width="19" height="14.1" fill="#0AA52B"/>
<rect x="618" y="732.2" width="18" height="4.7" fill="#F4393B"/>
<rect x="636" y="732.2" width="19" height="4.7" fill="#F4393B"/>
<rect x="655" y="729.1" width="18" height="7.8" fill="#F4393B"/>
<rect x="673" y="736.9" width="19" height="9" fill="#0AA52B"/>
<rect x="692" y="735" width="19" height="1.9" fill="#F4393B"/>
<rect x="711" y="736.9" width="18" height="2" fill="#0AA52B"/>
<rect x="729" y="727.1" width="19" height="9.8" fill="#F4393B"/>
<rect x="748" y="736.9" width="18" height="2" fill="#0AA52B"/>
<rect x="766" y="722" width="19" height="14.9" fill="#F4393B"/>
<rect x="785" y="736.9" width="18" height="7.1" fill="#0AA52B"/>
<rect x="803" y="713" width="19" height="23.9" fill="#F4393B"/>
<rect x="822" y="736.9" width="19" height="2.8" fill="#0AA52B"/>
<rect x="841" y="736.9" width="18" height="2" fill="#0AA52B"/>
<rect x="859" y="726" width="19" height="10.9" fill="#F4393B"/>
<rect x="878" y="736.9" width="18" height="2.8" fill="#0AA52B"/>
<rect x="896" y="736.9" width="19" height="4" fill="#0AA52B"/>
<rect x="915" y="716.1" width="18" height="20.8" fill="#F4393B"/>
<rect x="933" y="736.9" width="19" height="5.9" fill="#0AA52B"/>
<rect x="952" y="736.9" width="18" height="14.1" fill="#0AA52B"/>
<rect x="970" y="727.9" width="19" height="9" fill="#F4393B"/>
<rect x="989" y="736.9" width="19" height="7.1" fill="#0AA52B"/>
<rect x="1008" y="721.2" width="18" height="15.7" fill="#F4393B"/>
<rect x="1026" y="723.2" width="19" height="13.7" fill="#F4393B"/>
<rect x="1045" y="736.9" width="18" height="4" fill="#0AA52B"/>
<rect x="1063" y="729.9" width="19" height="7" fill="#F4393B"/>
<rect x="1082" y="736.9" width="18" height="2.9" fill="#0AA52B"/>
<rect x="1100" y="736.9" width="19" height="10.1" fill="#0AA52B"/>
<rect x="1119" y="705.9" width="18" height="31" fill="#F4393B"/>
<rect x="1137" y="677.9" width="19" height="59" fill="#F4393B"/>
<rect x="1156" y="733" width="19" height="3.9" fill="#F4393B"/>
<rect x="1175" y="736.9" width="18" height="1" fill="#0AA52B"/>
<rect x="1193" y="714.1" width="19" height="22.8" fill="#F4393B"/>
<rect x="1212" y="717.9" width="18" height="19" fill="#F4393B"/>
<rect x="1230" y="728.1" width="19" height="8.8" fill="#F4393B"/>
<rect x="1249" y="733" width="18" height="3.9" fill="#F4393B"/>
<rect x="1267" y="726" width="19" height="10.9" fill="#F4393B"/>
<rect x="1286" y="736.9" width="18" height="0.9" fill="#0AA52B"/>
<rect x="1304" y="724" width="19" height="12.9" fill="#F4393B"/>
<rect x="1323" y="736.9" width="19" height="18.9" fill="#0AA52B"/>
<rect x="1342" y="731" width="18" height="5.9" fill="#F4393B"/>
<rect x="1360" y="736.9" width="19" height="7.8" fill="#0AA52B"/>
<rect x="1379" y="733" width="18" height="3.9" fill="#F4393B"/>
<rect x="1397" y="736.9" width="19" height="1" fill="#0AA52B"/>
<rect x="1416" y="705.1" width="18" height="31.8" fill="#F4393B"/>
<rect x="1434" y="717" width="19" height="19.9" fill="#F4393B"/>
<rect x="1453" y="715.8" width="18" height="21.1" fill="#F4393B"/>
<rect x="1471" y="736.9" width="19" height="2" fill="#0AA52B"/>
<rect x="1490" y="729" width="19" height="7.9" fill="#F4393B"/>
<rect x="1509" y="724.9" width="18" height="12" fill="#F4393B"/>
<rect x="1527" y="736" width="19" height="0.9" fill="#F4393B"/>
<rect x="1546" y="724.9" width="18" height="12" fill="#F4393B"/>
<line x1="1566" y1="821.5" x2="1586" y2="821.5" stroke="#DCDCDC" stroke-dasharray="5 3"/>
<line x1="1566" y1="853.5" x2="1586" y2="853.5" stroke="#DCDCDC" stroke-dasharray="5 3"/>
<rect x="24" y="790" width="241" height="14" fill="#FC0978"/>
<rect x="265" y="790" width="260" height="14" fill="#46F3A0"/>
<rect x="525" y="790" width="37" height="14" fill="#FC0978"/>
<rect x="562" y="790" width="241" height="14" fill="#46F3A0"/>
<rect x="803" y="790" width="75" height="14" fill="#FC0978"/>
<rect x="878" y="790" width="259" height="14" fill="#46F3A0"/>
<rect x="1137" y="790" width="186" height="14" fill="#FC0978"/>
<rect x="1323" y="790" width="19" height="14" fill="#A1A9BA"/>
<rect x="1342" y="790" width="185" height="14" fill="#46F3A0"/>
<rect x="1527" y="790" width="37" height="14" fill="#FC0978"/>
<rect x="24" y="817" width="464" height="14" fill="#FC0978"/>
<rect x="488" y="817" width="37" height="14" fill="#A1A9BA"/>
<rect x="525" y="817" width="74" height="14" fill="#FC0978"/>
<rect x="599" y="817" width="56" height="14" fill="#A1A9BA"/>
<rect x="655" y="817" width="18" height="14" fill="#FC0978"/>
<rect x="673" y="817" width="130" height="14" fill="#A1A9BA"/>
<rect x="803" y="817" width="56" height="14" fill="#FC0978"/>
<rect x="859" y="817" width="93" height="14" fill="#A1A9BA"/>
<rect x="952" y="817" width="18" height="14" fill="#46F3A0"/>
<rect x="970" y="817" width="19" height="14" fill="#A1A9BA"/>
<rect x="989" y="817" width="37" height="14" fill="#46F3A0"/>
<rect x="1026" y="817" width="19" height="14" fill="#A1A9BA"/>
<rect x="1045" y="817" width="92" height="14" fill="#46F3A0"/>
<rect x="1137" y="817" width="38" height="14" fill="#FC0978"/>
<rect x="1175" y="817" width="18" height="14" fill="#A1A9BA"/>
<rect x="1193" y="817" width="130" height="14" fill="#FC0978"/>
<rect x="1323" y="817" width="37" height="14" fill="#A1A9BA"/>
<rect x="1360" y="817" width="93" height="14" fill="#46F3A0"/>
<rect x="1453" y="817" width="93" height="14" fill="#A1A9BA"/>
<rect x="1546" y="817" width="18" height="14" fill="#FC0978"/>
<rect x="24" y="844" width="928" height="14" fill="#FC0978"/>
<rect x="952" y="844" width="18" height="14" fill="#A1A9BA"/>
<rect x="970" y="844" width="19" height="14" fill="#FC0978"/>
<rect x="989" y="844" width="37" height="14" fill="#A1A9BA"/>
<rect x="1026" y="844" width="37" height="14" fill="#FC0978"/>
<rect x="1063" y="844" width="74" height="14" fill="#A1A9BA"/>
<rect x="1137" y="844" width="242" height="14" fill="#FC0978"/>
<rect x="1379" y="844" width="74" height="14" fill="#A1A9BA"/>
<rect x="1453" y="844" width="111" height="14" fill="#FC0978"/>
<rect x="24" y="871" width="19" height="14" fill="#FC0978"/>
<rect x="43" y="871" width="18" height="14" fill="#46F3A0"/>
<rect x="61" y="871" width="390" height="14" fill="#FC0978"/>
<rect x="451" y="871" width="37" height="14" fill="#46F3A0"/>
<rect x="488" y="871" width="74" height="14" fill="#FC0978"/>
<rect x="562" y="871" width="464" height="14" fill="#46F3A0"/>
<rect x="1026" y="871" width="19" height="14" fill="#FC0978"/>
<rect x="1045" y="871" width="185" height="14" fill="#46F3A0"/>
<rect x="1230" y="871" width="19" height="14" fill="#FC0978"/>
<rect x="1249" y="871" width="37" height="14" fill="#46F3A0"/>
<rect x="1286" y="871" width="18" height="14" fill="#FC0978"/>
<rect x="1304" y="871" width="242" height="14" fill="#46F3A0"/>
<rect x="1546" y="871" width="18" height="14" fill="#FC0978"/></svg>
<div class="b" style="left:0px;top:0px;width:1921px;height:1px;background:#3566CC;"></div>
<div class="b" style="left:0px;top:0px;width:1px;height:933px;background:#3566CC;"></div>
<div class="b" style="left:1px;top:1px;width:1px;height:931px;background:#9FB5E6;"></div>
<div class="b" style="left:1920px;top:0px;width:1px;height:933px;background:#3566CC;"></div>
<div class="b" style="left:1919px;top:1px;width:1px;height:931px;background:#7F9DDD;"></div>
<div class="b" style="left:0px;top:932px;width:1921px;height:1px;background:#3566CC;"></div>
<div class="b" style="left:2px;top:929px;width:1917px;height:1px;background:#D6DAEA;"></div>
<div class="b" style="left:23px;top:1px;width:1px;height:929px;background:#CDD3E6;"></div>
<div class="b" style="left:2px;top:115px;width:21px;height:114px;background:#3E6FEF;"></div>
<div class="b" style="left:2px;top:345px;width:21px;height:1px;background:#D6DAEA;"></div>
<div class="t" style="left:-137.5px;width:300px;text-align:center;top:37.6px;height:17px;line-height:17px;font-size:12px;color:#333;font-weight:400;">分</div>
<div class="t" style="left:-137.5px;width:300px;text-align:center;top:56.3px;height:17px;line-height:17px;font-size:12px;color:#333;font-weight:400;">时</div>
<div class="t" style="left:-137.5px;width:300px;text-align:center;top:152.3px;height:17px;line-height:17px;font-size:12px;color:#fff;font-weight:400;">K</div>
<div class="t" style="left:-137.5px;width:300px;text-align:center;top:171.3px;height:17px;line-height:17px;font-size:12px;color:#fff;font-weight:400;">线</div>
<div class="t" style="left:-137.5px;width:300px;text-align:center;top:240px;height:17px;line-height:17px;font-size:12px;color:#333;font-weight:400;">多</div>
<div class="t" style="left:-137.5px;width:300px;text-align:center;top:258.7px;height:17px;line-height:17px;font-size:12px;color:#333;font-weight:400;">周</div>
<div class="t" style="left:-137.5px;width:300px;text-align:center;top:277.3px;height:17px;line-height:17px;font-size:12px;color:#333;font-weight:400;">期</div>
<div class="t" style="left:-137.5px;width:300px;text-align:center;top:296.3px;height:17px;line-height:17px;font-size:12px;color:#333;font-weight:400;">同</div>
<div class="t" style="left:-137.5px;width:300px;text-align:center;top:315.3px;height:17px;line-height:17px;font-size:12px;color:#333;font-weight:400;">屏</div>
<svg width="14" height="13" viewBox="0 0 14 13" style="position:absolute;left:35px;top:6.2px"><path d="M1 0.8l5.3 5.7l-5.3 5.7M7 0.8l5.3 5.7l-5.3 5.7" stroke="#666" stroke-width="1.5" fill="none"/></svg>
<div class="b" style="left:57.3px;top:2.4px;width:41.7px;height:20.2px;background:#EBEEF6;"></div>
<div class="t bt" style="left:57.3px;top:2.4px;width:41.7px;height:20.2px;line-height:20.2px;font-size:12px;color:#2A2A2A">分时</div>
<div class="b" style="left:100px;top:2.4px;width:15px;height:20.2px;background:#EBEEF6;"></div>
<div class="b" style="left:101.3px;top:10px;width:8px;height:5px"><svg class="tri" width="7.4" height="4.2" viewBox="0 0 8 4.6"><path d="M0 0h8l-4 4.6z" fill="#2a2a2a"/></svg></div>
<div class="b" style="left:116px;top:2.4px;width:42px;height:20.2px;background:#D0DBF7;"></div>
<div class="t bt" style="left:116px;top:2.4px;width:42px;height:20.2px;line-height:20.2px;font-size:12px;color:#3467E6">日线</div>
<div class="b" style="left:159px;top:2.4px;width:42px;height:20.2px;background:#EBEEF6;"></div>
<div class="t bt" style="left:159px;top:2.4px;width:42px;height:20.2px;line-height:20.2px;font-size:12px;color:#2A2A2A">30分</div>
<div class="b" style="left:202px;top:2.4px;width:42px;height:20.2px;background:#EBEEF6;"></div>
<div class="t bt" style="left:202px;top:2.4px;width:42px;height:20.2px;line-height:20.2px;font-size:12px;color:#2A2A2A">60分</div>
<div class="b" style="left:245px;top:2.4px;width:42px;height:20.2px;background:#EBEEF6;"></div>
<div class="t bt" style="left:245px;top:2.4px;width:42px;height:20.2px;line-height:20.2px;font-size:12px;color:#2A2A2A">周线</div>
<div class="b" style="left:288px;top:2.4px;width:42px;height:20.2px;background:#EBEEF6;"></div>
<div class="t bt" style="left:288px;top:2.4px;width:42px;height:20.2px;line-height:20.2px;font-size:12px;color:#2A2A2A">月线</div>
<div class="b" style="left:331px;top:2.4px;width:49px;height:20.2px;background:#EBEEF6;"></div>
<div class="t bt" style="left:331px;top:2.4px;width:49px;height:20.2px;line-height:20.2px;font-size:12px;color:#2A2A2A">更多<svg class="tri" width="7.4" height="4.2" viewBox="0 0 8 4.6"><path d="M0 0h8l-4 4.6z" fill="#2a2a2a"/></svg></div>
<div class="b" style="left:1250.2px;top:2.4px;width:76.5px;height:20.2px;background:#EBEEF6;"></div>
<div class="t bt" style="left:1250.2px;top:2.4px;width:76.5px;height:20.2px;line-height:20.2px;font-size:12px;color:#2A2A2A">交易特色&nbsp;<svg class="tri" width="7.4" height="4.2" viewBox="0 0 8 4.6"><path d="M0 0h8l-4 4.6z" fill="#2a2a2a"/></svg></div>
<div class="b" style="left:1328px;top:2.4px;width:41.7px;height:20.2px;background:#EBEEF6;"></div>
<div class="t bt" style="left:1328px;top:2.4px;width:41.7px;height:20.2px;line-height:20.2px;font-size:12px;color:#2A2A2A">九转</div>
<div class="b" style="left:1371px;top:2.4px;width:63.8px;height:20.2px;background:#EBEEF6;"></div>
<div class="t bt" style="left:1371px;top:2.4px;width:63.8px;height:20.2px;line-height:20.2px;font-size:12px;color:#2A2A2A">前复权&nbsp;<svg class="tri" width="7.4" height="4.2" viewBox="0 0 8 4.6"><path d="M0 0h8l-4 4.6z" fill="#2a2a2a"/></svg></div>
<div class="b" style="left:1436px;top:2.4px;width:52px;height:20.2px;background:#EBEEF6;"></div>
<div class="t bt" style="left:1436px;top:2.4px;width:52px;height:20.2px;line-height:20.2px;font-size:12px;color:#2A2A2A">叠加&nbsp;<svg class="tri" width="7.4" height="4.2" viewBox="0 0 8 4.6"><path d="M0 0h8l-4 4.6z" fill="#2a2a2a"/></svg></div>
<div class="b" style="left:1489.2px;top:2.4px;width:41.8px;height:20.2px;background:#EBEEF6;"></div>
<div class="t bt" style="left:1489.2px;top:2.4px;width:41.8px;height:20.2px;line-height:20.2px;font-size:12px;color:#2A2A2A">画线</div>
<div class="b" style="left:1532px;top:2.4px;width:75px;height:20.2px;background:#F1F3FB;border:1px solid #C9D1EA;box-sizing:border-box"></div>
<div class="b" style="left:1589.6px;top:2.4px;width:1.2px;height:20.2px;background:#C9D1EA;"></div>
<svg width="14" height="14" viewBox="0 0 14 14" style="position:absolute;left:1537.6px;top:5.8px"><path d="M6.7 0.5v12.8M0.4 6.9h12.8" stroke="#2E6BFF" stroke-width="1.8"/></svg>
<div class="t" style="left:1554.6px;top:3px;height:20px;line-height:20px;font-size:14.5px;color:#222;font-weight:400;">自选</div>
<div class="b" style="left:1594px;top:10px;width:8px;height:5px"><svg class="tri" width="7.4" height="4.2" viewBox="0 0 8 4.6"><path d="M0 0h8l-4 4.6z" fill="#2a2a2a"/></svg></div>
<svg width="14" height="13" viewBox="0 0 14 13" style="position:absolute;left:1617.5px;top:6.2px"><path d="M1 0.8l5.3 5.7l-5.3 5.7M7 0.8l5.3 5.7l-5.3 5.7" stroke="#666" stroke-width="1.5" fill="none"/></svg>
<div class="t" style="left:32.3px;top:29.1px;height:17px;line-height:17px;font-size:12px;color:#222;font-weight:400;"><span style="letter-spacing:0.17px">870805</span> 华为昇腾</div>
<svg width="15" height="15" viewBox="0 0 15 15" style="position:absolute;left:145.5px;top:29.3px"><circle cx="7.5" cy="7.9" r="6.6" fill="#F6FAFC" stroke="#A9C4D2" stroke-width="1.3"/><path d="M4.2 6.5h6.6l-3.3 3.7z" fill="#1c2c3c"/></svg>
<div class="t" style="left:163px;top:29.1px;height:17px;line-height:17px;font-size:12px;color:#5C6570;font-weight:400;">智能辅助</div>
<div class="t" style="left:221.5px;top:29.1px;height:17px;line-height:17px;font-size:12px;color:#E9A322;font-weight:400;">HHJSJDB:1660.55<svg class="ar" width="8" height="10" viewBox="0 0 8 10"><path d="M4 0l4 4.6h-2.5v5.4h-3v-5.4h-2.5z" fill="#FF2E2E"/></svg></div>
<div class="t" style="left:342px;top:29.1px;height:17px;line-height:17px;font-size:12px;color:#FF3535;font-weight:400;">HHJSJDC:1661.28<svg class="ar" width="8" height="10" viewBox="0 0 8 10"><path d="M4 10l4 -4.6h-2.5v-5.4h-3v5.4h-2.5z" fill="#14A82C"/></svg></div>
<div class="t" style="left:463px;top:29.1px;height:17px;line-height:17px;font-size:12px;color:#D98A12;font-weight:400;"><span style="display:inline-block;width:36px;white-space:nowrap">乖离率</span>:1.977<svg class="ar" width="8" height="10" viewBox="0 0 8 10"><path d="M4 0l4 4.6h-2.5v5.4h-3v-5.4h-2.5z" fill="#FF2E2E"/></svg></div>
<svg width="18" height="16" viewBox="1506 28 18 16" style="position:absolute;left:1506px;top:28px"><path d="M1520.8 40.9h-7.2a3.75 3.75 0 0 1 0 -7.5h5" stroke="#626262" stroke-width="1.9" fill="none"/><path d="M1522.4 33.4l-4.3 -3.7v7.4z" fill="#626262"/></svg>
<svg width="16" height="16" viewBox="-8 -8 16 16" style="position:absolute;left:1530.7px;top:28.7px"><circle r="6.4" fill="#666"/><path d="M0 -4.1v8.2M-4.1 0h8.2" stroke="#fff" stroke-width="2.3"/></svg>
<svg width="16" height="16" viewBox="-8 -8 16 16" style="position:absolute;left:1553.7px;top:28.7px"><circle r="6.4" fill="#666"/><path d="M-4 0h8" stroke="#fff" stroke-width="2.2"/></svg>
<svg width="16" height="16" viewBox="-8 -8 16 16" style="position:absolute;left:1576.6px;top:28.7px"><g fill="#646464"><rect x="-6.3" y="-1.85" width="12.6" height="3.7" rx="0.8" transform="rotate(0)"/><rect x="-6.3" y="-1.85" width="12.6" height="3.7" rx="0.8" transform="rotate(60)"/><rect x="-6.3" y="-1.85" width="12.6" height="3.7" rx="0.8" transform="rotate(120)"/><circle r="5.1"/></g><circle r="3.1" fill="#fff"/><circle r="1.35" fill="#646464"/></svg>
<svg width="16" height="16" viewBox="-8 -8 16 16" style="position:absolute;left:1599.5px;top:28.7px"><circle r="6.4" fill="#666"/><text x="0" y="3.6" font-family="Liberation Sans, sans-serif" font-size="10" font-weight="700" fill="#fff" text-anchor="middle">?</text></svg>
<svg width="16" height="16" viewBox="-8 -8 16 16" style="position:absolute;left:1622.4px;top:28.7px"><circle r="6.4" fill="#666"/><path d="M-2.7 -2.7l5.4 5.4M2.7 -2.7l-5.4 5.4" stroke="#fff" stroke-width="2.2"/></svg>
<div class="t" style="left:1593.6px;top:50.5px;height:15px;line-height:15px;font-size:10.6px;color:#222;font-weight:400;">1936.94</div>
<div class="t" style="left:1593.6px;top:95.5px;height:15px;line-height:15px;font-size:10.6px;color:#222;font-weight:400;">1879.01</div>
<div class="t" style="left:1593.6px;top:140.4px;height:15px;line-height:15px;font-size:10.6px;color:#222;font-weight:400;">1821.08</div>
<div class="t" style="left:1593.6px;top:185.4px;height:15px;line-height:15px;font-size:10.6px;color:#222;font-weight:400;">1763.15</div>
<div class="t" style="left:1593.6px;top:230.3px;height:15px;line-height:15px;font-size:10.6px;color:#222;font-weight:400;">1705.22</div>
<div class="t" style="left:1593.6px;top:275.2px;height:15px;line-height:15px;font-size:10.6px;color:#222;font-weight:400;">1647.29</div>
<div class="t" style="left:1593.6px;top:320.2px;height:15px;line-height:15px;font-size:10.6px;color:#222;font-weight:400;">1589.36</div>
<div class="t" style="left:1593.6px;top:365.2px;height:15px;line-height:15px;font-size:10.6px;color:#222;font-weight:400;">1531.43</div>
<div class="t" style="left:248.6px;top:60.5px;height:15px;line-height:15px;font-size:10.8px;color:#1B2540;font-weight:400;">1924.07</div>
<div class="t" style="left:1041.6px;top:355.3px;height:15px;line-height:15px;font-size:10.8px;color:#1B2540;font-weight:400;">1544.30</div>
<div class="t" style="left:33.3px;top:410.8px;height:17px;line-height:17px;font-size:12px;color:#555;font-weight:400;">捕捞季节</div>
<div class="t" style="right:351.5px;top:410.8px;height:17px;line-height:17px;font-size:12px;color:#555;font-weight:400;">捕捞季节</div>
<svg width="16" height="16" viewBox="-8 -8 16 16" style="position:absolute;left:1575.7px;top:410.8px"><g fill="#646464"><rect x="-6.3" y="-1.85" width="12.6" height="3.7" rx="0.8" transform="rotate(0)"/><rect x="-6.3" y="-1.85" width="12.6" height="3.7" rx="0.8" transform="rotate(60)"/><rect x="-6.3" y="-1.85" width="12.6" height="3.7" rx="0.8" transform="rotate(120)"/><circle r="5.1"/></g><circle r="3.1" fill="#fff"/><circle r="1.35" fill="#646464"/></svg>
<svg width="16" height="16" viewBox="-8 -8 16 16" style="position:absolute;left:1599px;top:410.8px"><circle r="6.4" fill="#666"/><text x="0" y="3.6" font-family="Liberation Sans, sans-serif" font-size="10" font-weight="700" fill="#fff" text-anchor="middle">?</text></svg>
<svg width="16" height="16" viewBox="-8 -8 16 16" style="position:absolute;left:1621.8px;top:410.8px"><circle r="6.4" fill="#666"/><path d="M-2.7 -2.7l5.4 5.4M2.7 -2.7l-5.4 5.4" stroke="#fff" stroke-width="2.2"/></svg>
<div class="t" style="left:90.7px;top:410.8px;height:17px;line-height:17px;font-size:12px;color:#E9A322;font-weight:400;">X1:0.313<svg class="ar" width="8" height="10" viewBox="0 0 8 10"><path d="M4 0l4 4.6h-2.5v5.4h-3v-5.4h-2.5z" fill="#FF2E2E"/></svg></div>
<div class="t" style="left:161.5px;top:410.8px;height:17px;line-height:17px;font-size:12px;color:#FF22FF;font-weight:400;">X2:0.350<svg class="ar" width="8" height="10" viewBox="0 0 8 10"><path d="M4 0l4 4.6h-2.5v5.4h-3v-5.4h-2.5z" fill="#FF2E2E"/></svg></div>
<div class="t" style="left:231px;top:410.8px;height:17px;line-height:17px;font-size:12px;color:#13A538;font-weight:400;"><span style="display:inline-block;width:36px;white-space:nowrap">彩柱数</span>:0.000</div>
<div class="t" style="left:33.3px;top:530.8px;height:17px;line-height:17px;font-size:12px;color:#555;font-weight:400;">流动资金</div>
<div class="t" style="right:351.5px;top:530.8px;height:17px;line-height:17px;font-size:12px;color:#555;font-weight:400;">流动资金</div>
<svg width="16" height="16" viewBox="-8 -8 16 16" style="position:absolute;left:1575.7px;top:530.8px"><g fill="#646464"><rect x="-6.3" y="-1.85" width="12.6" height="3.7" rx="0.8" transform="rotate(0)"/><rect x="-6.3" y="-1.85" width="12.6" height="3.7" rx="0.8" transform="rotate(60)"/><rect x="-6.3" y="-1.85" width="12.6" height="3.7" rx="0.8" transform="rotate(120)"/><circle r="5.1"/></g><circle r="3.1" fill="#fff"/><circle r="1.35" fill="#646464"/></svg>
<svg width="16" height="16" viewBox="-8 -8 16 16" style="position:absolute;left:1599px;top:530.8px"><circle r="6.4" fill="#666"/><text x="0" y="3.6" font-family="Liberation Sans, sans-serif" font-size="10" font-weight="700" fill="#fff" text-anchor="middle">?</text></svg>
<svg width="16" height="16" viewBox="-8 -8 16 16" style="position:absolute;left:1621.8px;top:530.8px"><circle r="6.4" fill="#666"/><path d="M-2.7 -2.7l5.4 5.4M2.7 -2.7l-5.4 5.4" stroke="#fff" stroke-width="2.2"/></svg>
<div class="t" style="left:33.3px;top:650.8px;height:17px;line-height:17px;font-size:12px;color:#555;font-weight:400;">主力净买额</div>
<div class="t" style="right:351.5px;top:650.8px;height:17px;line-height:17px;font-size:12px;color:#555;font-weight:400;">主力净买额</div>
<svg width="16" height="16" viewBox="-8 -8 16 16" style="position:absolute;left:1575.7px;top:650.8px"><g fill="#646464"><rect x="-6.3" y="-1.85" width="12.6" height="3.7" rx="0.8" transform="rotate(0)"/><rect x="-6.3" y="-1.85" width="12.6" height="3.7" rx="0.8" transform="rotate(60)"/><rect x="-6.3" y="-1.85" width="12.6" height="3.7" rx="0.8" transform="rotate(120)"/><circle r="5.1"/></g><circle r="3.1" fill="#fff"/><circle r="1.35" fill="#646464"/></svg>
<svg width="16" height="16" viewBox="-8 -8 16 16" style="position:absolute;left:1599px;top:650.8px"><circle r="6.4" fill="#666"/><text x="0" y="3.6" font-family="Liberation Sans, sans-serif" font-size="10" font-weight="700" fill="#fff" text-anchor="middle">?</text></svg>
<svg width="16" height="16" viewBox="-8 -8 16 16" style="position:absolute;left:1621.8px;top:650.8px"><circle r="6.4" fill="#666"/><path d="M-2.7 -2.7l5.4 5.4M2.7 -2.7l-5.4 5.4" stroke="#fff" stroke-width="2.2"/></svg>
<div class="t" style="left:103.3px;top:650.8px;height:17px;line-height:17px;font-size:12px;color:#FF3030;font-weight:400;"><span style="display:inline-block;width:60px;white-space:nowrap">主力净买额</span>:65026.5<svg class="ar" width="8" height="10" viewBox="0 0 8 10"><path d="M4 0l4 4.6h-2.5v5.4h-3v-5.4h-2.5z" fill="#FF2E2E"/></svg></div>
<div class="t" style="left:33.3px;top:770.8px;height:17px;line-height:17px;font-size:12px;color:#555;font-weight:400;">神奇色阶</div>
<div class="t" style="right:351.5px;top:770.8px;height:17px;line-height:17px;font-size:12px;color:#555;font-weight:400;">神奇色阶</div>
<svg width="16" height="16" viewBox="-8 -8 16 16" style="position:absolute;left:1575.7px;top:770.8px"><g fill="#646464"><rect x="-6.3" y="-1.85" width="12.6" height="3.7" rx="0.8" transform="rotate(0)"/><rect x="-6.3" y="-1.85" width="12.6" height="3.7" rx="0.8" transform="rotate(60)"/><rect x="-6.3" y="-1.85" width="12.6" height="3.7" rx="0.8" transform="rotate(120)"/><circle r="5.1"/></g><circle r="3.1" fill="#fff"/><circle r="1.35" fill="#646464"/></svg>
<svg width="16" height="16" viewBox="-8 -8 16 16" style="position:absolute;left:1599px;top:770.8px"><circle r="6.4" fill="#666"/><text x="0" y="3.6" font-family="Liberation Sans, sans-serif" font-size="10" font-weight="700" fill="#fff" text-anchor="middle">?</text></svg>
<svg width="16" height="16" viewBox="-8 -8 16 16" style="position:absolute;left:1621.8px;top:770.8px"><circle r="6.4" fill="#666"/><path d="M-2.7 -2.7l5.4 5.4M2.7 -2.7l-5.4 5.4" stroke="#fff" stroke-width="2.2"/></svg>
<div class="t" style="left:1591.3px;top:455.3px;height:15px;line-height:15px;font-size:10.5px;color:#222;font-weight:400;">0.42</div>
<div class="t" style="left:1591.3px;top:487.8px;height:15px;line-height:15px;font-size:10.5px;color:#222;font-weight:400;">-0.50</div>
<div class="t" style="left:1591.7px;top:575.7px;height:15px;line-height:15px;font-size:10.5px;color:#222;font-weight:400;">19.49</div>
<div class="t" style="left:1591.7px;top:607.2px;height:15px;line-height:15px;font-size:10.5px;color:#222;font-weight:400;">15.00</div>
<div class="t" style="left:1591.3px;top:627.5px;height:20px;line-height:20px;font-size:14px;color:#222;font-weight:400;">X亿</div>
<div class="t" style="left:1591.7px;top:695.7px;height:15px;line-height:15px;font-size:10.5px;color:#222;font-weight:400;">19.90</div>
<div class="t" style="left:1591.7px;top:727.2px;height:15px;line-height:15px;font-size:10.5px;color:#222;font-weight:400;">1.88</div>
<div class="t" style="left:1591.3px;top:747px;height:20px;line-height:20px;font-size:14px;color:#222;font-weight:400;">X万</div>
<div class="t" style="left:1591.7px;top:815.2px;height:15px;line-height:15px;font-size:10.5px;color:#222;font-weight:400;">4.67</div>
<div class="t" style="left:1591.7px;top:847.2px;height:15px;line-height:15px;font-size:10.5px;color:#222;font-weight:400;">2.33</div>
<div class="t" style="left:362.5px;top:890px;height:15px;line-height:15px;font-size:11px;color:#222;font-weight:400;">7<span style="display:inline-block;width:11px;white-space:nowrap">月</span></div>
<div class="t" style="left:757px;top:890px;height:15px;line-height:15px;font-size:11px;color:#222;font-weight:400;">8<span style="display:inline-block;width:11px;white-space:nowrap">月</span></div>
<div class="t" style="left:1190px;top:890px;height:15px;line-height:15px;font-size:11px;color:#222;font-weight:400;">9<span style="display:inline-block;width:11px;white-space:nowrap">月</span></div>
<div class="t" style="left:1563.3px;top:890px;height:15px;line-height:15px;font-size:11px;color:#222;font-weight:400;">10<span style="display:inline-block;width:11px;white-space:nowrap">月</span></div>
<div class="b" style="left:1589px;top:888px;width:52px;height:16px;background:#ECEEF6;"></div>
<div class="t" style="left:1602.7px;top:888.5px;height:17px;line-height:17px;font-size:12px;color:#222;font-weight:400;">日线</div>
<div class="b" style="left:27.2px;top:906.2px;width:41.8px;height:20.6px;background:#EBEEF6;"></div>
<div class="t bt" style="left:27.2px;top:906.2px;width:41.8px;height:20.6px;line-height:20.6px;font-size:12px;color:#2A2A2A">默认</div>
<div class="b" style="left:70.3px;top:906.2px;width:66.7px;height:20.6px;background:#EBEEF6;"></div>
<div class="t bt" style="left:70.3px;top:906.2px;width:66.7px;height:20.6px;line-height:20.6px;font-size:12px;color:#2A2A2A">主力资金</div>
<div class="b" style="left:138.3px;top:906.2px;width:66.7px;height:20.6px;background:#EBEEF6;"></div>
<div class="t bt" style="left:138.3px;top:906.2px;width:66.7px;height:20.6px;line-height:20.6px;font-size:12px;color:#2A2A2A">主力控盘</div>
<div class="b" style="left:206.3px;top:906.2px;width:66.7px;height:20.6px;background:#EBEEF6;"></div>
<div class="t bt" style="left:206.3px;top:906.2px;width:66.7px;height:20.6px;line-height:20.6px;font-size:12px;color:#2A2A2A">传统指标</div>
<div class="b" style="left:274.3px;top:906.2px;width:66.7px;height:20.6px;background:#EBEEF6;"></div>
<div class="t bt" style="left:274.3px;top:906.2px;width:66.7px;height:20.6px;line-height:20.6px;font-size:12px;color:#2A2A2A">睿智版</div>
<div class="b" style="left:342.3px;top:906.2px;width:66.7px;height:20.6px;background:#EBEEF6;"></div>
<div class="t bt" style="left:342.3px;top:906.2px;width:66.7px;height:20.6px;line-height:20.6px;font-size:12px;color:#2A2A2A">无</div>
<div class="b" style="left:410.3px;top:906.2px;width:66.7px;height:20.6px;background:#EBEEF6;"></div>
<div class="t bt" style="left:410.3px;top:906.2px;width:66.7px;height:20.6px;line-height:20.6px;font-size:12px;color:#2A2A2A">龙虎榜</div>
<div class="b" style="left:478.3px;top:906.2px;width:66.7px;height:20.6px;background:#D0DBF7;"></div>
<div class="t bt" style="left:478.3px;top:906.2px;width:66.7px;height:20.6px;line-height:20.6px;font-size:12px;color:#3467E6">板块专用</div>
<div class="b" style="left:546.3px;top:906.2px;width:66.7px;height:20.6px;background:#EBEEF6;"></div>
<div class="t bt" style="left:546.3px;top:906.2px;width:66.7px;height:20.6px;line-height:20.6px;font-size:12px;color:#2A2A2A">基金传统...</div>
<div class="b" style="left:1506px;top:906.2px;width:41.7px;height:22.4px;background:#D0DBF7;"></div>
<div class="t bt" style="left:1506px;top:906.2px;width:41.7px;height:22.4px;line-height:22.4px;font-size:12px;color:#3467E6">保存</div>
<div class="b" style="left:1551px;top:906.2px;width:42.3px;height:22.4px;background:#D0DBF7;"></div>
<div class="t bt" style="left:1551px;top:906.2px;width:42.3px;height:22.4px;line-height:22.4px;font-size:12px;color:#3467E6">管理</div>
<div class="b" style="left:1596.7px;top:906.2px;width:41.6px;height:22.4px;background:#D0DBF7;"></div>
<div class="t bt" style="left:1596.7px;top:906.2px;width:41.6px;height:22.4px;line-height:22.4px;font-size:12px;color:#3467E6">战法</div>
<div class="b" style="left:1641px;top:1px;width:1px;height:929px;background:#C9D1EA;"></div>
<div class="t" style="left:1650px;top:2px;height:26px;line-height:26px;font-size:18.6px;color:#1A1A1A;font-weight:700;"><span style="letter-spacing:1.5px">870805</span></div>
<div class="t" style="left:1726.8px;top:2.6px;height:26px;line-height:26px;font-size:18.6px;color:#1A1A1A;font-weight:700;">华为昇腾</div>
<div class="t" style="left:1650.6px;top:28.5px;height:26px;line-height:26px;font-size:20.4px;color:#EE1111;font-weight:700;letter-spacing:0.35px">1693.38</div>
<div class="t" style="left:1731.8px;top:32.6px;height:20px;line-height:20px;font-size:14.4px;color:#EE1111;font-weight:700;letter-spacing:0.9px">+0.89%</div>
<div class="t" style="left:1792px;top:32.6px;height:20px;line-height:20px;font-size:14.4px;color:#EE1111;font-weight:700;letter-spacing:1px">+14.86</div>
<div class="b" style="left:1642px;top:57px;width:277px;height:1px;background:#D3D9EA;"></div>
<div class="t" style="left:1646px;top:59px;height:21px;line-height:21px;font-size:15px;color:#666;font-weight:400;">现价</div>
<div class="t" style="right:144.2px;top:59.6px;height:22px;line-height:22px;font-size:16px;color:#EE1111;font-weight:400;">1693.38</div>
<div class="t" style="left:1783.4px;top:59px;height:21px;line-height:21px;font-size:15px;color:#666;font-weight:400;">涨幅</div>
<div class="t" style="right:6.2px;top:59.6px;height:22px;line-height:22px;font-size:16px;color:#EE1111;font-weight:400;">0.89%</div>
<div class="t" style="left:1646px;top:81.7px;height:21px;line-height:21px;font-size:15px;color:#666;font-weight:400;">涨跌</div>
<div class="t" style="right:144.2px;top:82.3px;height:22px;line-height:22px;font-size:16px;color:#EE1111;font-weight:400;">14.86</div>
<div class="t" style="left:1783.4px;top:81.7px;height:21px;line-height:21px;font-size:15px;color:#666;font-weight:400;">振幅</div>
<div class="t" style="right:6.2px;top:82.3px;height:22px;line-height:22px;font-size:16px;color:#222;font-weight:400;">1.73%</div>
<div class="t" style="left:1646px;top:104.3px;height:21px;line-height:21px;font-size:15px;color:#666;font-weight:400;">最高</div>
<div class="t" style="right:144.2px;top:104.9px;height:22px;line-height:22px;font-size:16px;color:#EE1111;font-weight:400;">1699.69</div>
<div class="t" style="left:1783.4px;top:104.3px;height:21px;line-height:21px;font-size:15px;color:#666;font-weight:400;">最低</div>
<div class="t" style="right:6.2px;top:104.9px;height:22px;line-height:22px;font-size:16px;color:#1A9B4B;font-weight:400;">1670.70</div>
<div class="t" style="left:1646px;top:127.5px;height:21px;line-height:21px;font-size:15px;color:#666;font-weight:400;">今开</div>
<div class="t" style="right:144.2px;top:128.1px;height:22px;line-height:22px;font-size:16px;color:#1A9B4B;font-weight:400;">1675.43</div>
<div class="t" style="left:1783.4px;top:127.5px;height:21px;line-height:21px;font-size:15px;color:#666;font-weight:400;">均价</div>
<div class="t" style="right:6.2px;top:128.1px;height:22px;line-height:22px;font-size:16px;color:#EE1111;font-weight:400;">1693.38</div>
<div class="t" style="left:1646px;top:152.2px;height:21px;line-height:21px;font-size:15px;color:#666;font-weight:400;">成交量</div>
<div class="t" style="right:144.2px;top:152.8px;height:22px;line-height:22px;font-size:16px;color:#222;font-weight:400;">972.92<span style="display:inline-block;width:15px;white-space:nowrap">万</span></div>
<div class="t" style="left:1783.4px;top:152.2px;height:21px;line-height:21px;font-size:15px;color:#666;font-weight:400;">成交额</div>
<div class="t" style="right:6.2px;top:152.8px;height:22px;line-height:22px;font-size:16px;color:#222;font-weight:400;">164.65<span style="display:inline-block;width:15px;white-space:nowrap">亿</span></div>
<div class="t" style="left:1646px;top:174.8px;height:21px;line-height:21px;font-size:15px;color:#666;font-weight:400;">量比</div>
<div class="t" style="right:144.2px;top:175.4px;height:22px;line-height:22px;font-size:16px;color:#222;font-weight:400;">0.96</div>
<div class="t" style="left:1783.4px;top:174.8px;height:21px;line-height:21px;font-size:15px;color:#666;font-weight:400;">换手</div>
<div class="t" style="right:6.2px;top:175.4px;height:22px;line-height:22px;font-size:16px;color:#222;font-weight:400;">-</div>
<div class="b" style="left:1642px;top:150px;width:277px;height:1px;background:#DDE1EE;"></div>
<div class="b" style="left:1642px;top:196px;width:277px;height:1px;background:#D3D9EA;"></div>
<div class="t" style="left:1644px;top:199.1px;height:21px;line-height:21px;font-size:15px;color:#666;font-weight:400;">涨跌分布</div>
<div class="b" style="left:1644px;top:222px;width:173px;height:9.6px;background:#E81010;"></div>
<div class="b" style="left:1817px;top:222px;width:100px;height:9.6px;background:#1A9040;"></div>
<div class="t" style="left:1645px;top:231.5px;height:21px;line-height:21px;font-size:15px;color:#444;font-weight:400;">上涨</div>
<div class="t" style="right:193.4px;top:231.4px;height:22px;line-height:22px;font-size:16px;color:#EE1111;font-weight:400;">19</div>
<div class="t" style="left:1738px;top:231.5px;height:21px;line-height:21px;font-size:15px;color:#444;font-weight:400;">平</div>
<div class="t" style="right:98.7px;top:231.4px;height:22px;line-height:22px;font-size:16px;color:#1A9B4B;font-weight:400;">-</div>
<div class="t" style="left:1832.4px;top:231.5px;height:21px;line-height:21px;font-size:15px;color:#444;font-weight:400;">下跌</div>
<div class="t" style="right:6px;top:231.4px;height:22px;line-height:22px;font-size:16px;color:#3F9A2A;font-weight:400;">11</div>
<div class="b" style="left:1644px;top:254px;width:273px;height:1px;background:#DDE1EE;"></div>
<div class="t" style="left:1630.6px;width:300px;text-align:center;top:258.2px;height:21px;line-height:21px;font-size:15px;color:#666;font-weight:400;">成分股</div>
<div class="b" style="left:1642px;top:280.5px;width:277px;height:24px;background:#F0F0F3;"></div>
<div class="t" style="left:1651.8px;top:282.5px;height:21px;line-height:21px;font-size:15px;color:#777;font-weight:400;">名称</div>
<div class="t" style="right:116.8px;top:282.5px;height:21px;line-height:21px;font-size:15px;color:#777;font-weight:400;">现价</div>
<div class="t" style="right:22.6px;top:282.5px;height:21px;line-height:21px;font-size:15px;color:#777;font-weight:400;">涨幅</div>
<div class="t" style="left:1649.6px;top:307.4px;height:22px;line-height:22px;font-size:15.8px;color:#1A1A1A;font-weight:400;">航天宏图</div>
<div class="t" style="right:116.2px;top:305.8px;height:23px;line-height:23px;font-size:16.2px;color:#EE1111;font-weight:400;">54.36</div>
<div class="t" style="right:22.4px;top:305.8px;height:23px;line-height:23px;font-size:16.2px;color:#EE1111;font-weight:400;">6.53%</div>
<div class="t" style="left:1649.6px;top:331.4px;height:22px;line-height:22px;font-size:15.8px;color:#1A1A1A;font-weight:400;">神思电子</div>
<div class="t" style="right:116.2px;top:329.8px;height:23px;line-height:23px;font-size:16.2px;color:#EE1111;font-weight:400;">22.25</div>
<div class="t" style="right:22.4px;top:329.8px;height:23px;line-height:23px;font-size:16.2px;color:#EE1111;font-weight:400;">6.51%</div>
<div class="t" style="left:1649.6px;top:355.4px;height:22px;line-height:22px;font-size:15.8px;color:#3D6EEE;font-weight:400;">拓维信息</div>
<div class="t" style="right:116.2px;top:353.8px;height:23px;line-height:23px;font-size:16.2px;color:#EE1111;font-weight:400;">18.86</div>
<div class="t" style="right:22.4px;top:353.8px;height:23px;line-height:23px;font-size:16.2px;color:#EE1111;font-weight:400;">5.84%</div>
<div class="t" style="left:1649.6px;top:379.4px;height:22px;line-height:22px;font-size:15.8px;color:#1A1A1A;font-weight:400;">神州数码</div>
<div class="t" style="right:116.2px;top:377.8px;height:23px;line-height:23px;font-size:16.2px;color:#EE1111;font-weight:400;">28.45</div>
<div class="t" style="right:22.4px;top:377.8px;height:23px;line-height:23px;font-size:16.2px;color:#EE1111;font-weight:400;">3.04%</div>
<div class="t" style="left:1649.6px;top:403.4px;height:22px;line-height:22px;font-size:15.8px;color:#1A1A1A;font-weight:400;">卓易信息</div>
<div class="t" style="right:116.2px;top:401.8px;height:23px;line-height:23px;font-size:16.2px;color:#EE1111;font-weight:400;">58.39</div>
<div class="t" style="right:22.4px;top:401.8px;height:23px;line-height:23px;font-size:16.2px;color:#EE1111;font-weight:400;">2.35%</div>
<div class="t" style="left:1649.6px;top:427.4px;height:22px;line-height:22px;font-size:15.8px;color:#1A1A1A;font-weight:400;">多伦科技</div>
<div class="t" style="right:116.2px;top:425.8px;height:23px;line-height:23px;font-size:16.2px;color:#EE1111;font-weight:400;">7.73</div>
<div class="t" style="right:22.4px;top:425.8px;height:23px;line-height:23px;font-size:16.2px;color:#EE1111;font-weight:400;">2.11%</div>
<div class="t" style="left:1649.6px;top:451.4px;height:22px;line-height:22px;font-size:15.8px;color:#1A1A1A;font-weight:400;">润和软件</div>
<div class="t" style="right:116.2px;top:449.8px;height:23px;line-height:23px;font-size:16.2px;color:#EE1111;font-weight:400;">23.09</div>
<div class="t" style="right:22.4px;top:449.8px;height:23px;line-height:23px;font-size:16.2px;color:#EE1111;font-weight:400;">1.94%</div>
<div class="t" style="left:1649.6px;top:475.4px;height:22px;line-height:22px;font-size:15.8px;color:#1A1A1A;font-weight:400;">高新兴</div>
<div class="t" style="right:116.2px;top:473.8px;height:23px;line-height:23px;font-size:16.2px;color:#EE1111;font-weight:400;">3.76</div>
<div class="t" style="right:22.4px;top:473.8px;height:23px;line-height:23px;font-size:16.2px;color:#EE1111;font-weight:400;">1.90%</div>
<div class="t" style="left:1649.6px;top:499.4px;height:22px;line-height:22px;font-size:15.8px;color:#1A1A1A;font-weight:400;">广电运通</div>
<div class="t" style="right:116.2px;top:497.8px;height:23px;line-height:23px;font-size:16.2px;color:#EE1111;font-weight:400;">12.31</div>
<div class="t" style="right:22.4px;top:497.8px;height:23px;line-height:23px;font-size:16.2px;color:#EE1111;font-weight:400;">1.74%</div>
<div class="t" style="left:1649.6px;top:523.4px;height:22px;line-height:22px;font-size:15.8px;color:#1A1A1A;font-weight:400;">川大智胜</div>
<div class="t" style="right:116.2px;top:521.8px;height:23px;line-height:23px;font-size:16.2px;color:#EE1111;font-weight:400;">13.69</div>
<div class="t" style="right:22.4px;top:521.8px;height:23px;line-height:23px;font-size:16.2px;color:#EE1111;font-weight:400;">1.48%</div>
<div class="t" style="left:1649.6px;top:547.4px;height:22px;line-height:22px;font-size:15.8px;color:#1A1A1A;font-weight:400;">三联虹普</div>
<div class="t" style="right:116.2px;top:545.8px;height:23px;line-height:23px;font-size:16.2px;color:#EE1111;font-weight:400;">16.51</div>
<div class="t" style="right:22.4px;top:545.8px;height:23px;line-height:23px;font-size:16.2px;color:#EE1111;font-weight:400;">1.29%</div>
<div class="t" style="left:1649.6px;top:571.4px;height:22px;line-height:22px;font-size:15.8px;color:#1A1A1A;font-weight:400;">常山北明</div>
<div class="t" style="right:116.2px;top:569.8px;height:23px;line-height:23px;font-size:16.2px;color:#EE1111;font-weight:400;">8.78</div>
<div class="t" style="right:22.4px;top:569.8px;height:23px;line-height:23px;font-size:16.2px;color:#EE1111;font-weight:400;">1.27%</div>
<div class="t" style="left:1649.6px;top:595.4px;height:22px;line-height:22px;font-size:15.8px;color:#1A1A1A;font-weight:400;">佳都科技</div>
<div class="t" style="right:116.2px;top:593.8px;height:23px;line-height:23px;font-size:16.2px;color:#EE1111;font-weight:400;">5.73</div>
<div class="t" style="right:22.4px;top:593.8px;height:23px;line-height:23px;font-size:16.2px;color:#EE1111;font-weight:400;">1.24%</div>
<div class="t" style="left:1649.6px;top:619.4px;height:22px;line-height:22px;font-size:15.8px;color:#3D6EEE;font-weight:400;">科大讯飞</div>
<div class="t" style="right:116.2px;top:617.8px;height:23px;line-height:23px;font-size:16.2px;color:#EE1111;font-weight:400;">51.23</div>
<div class="t" style="right:22.4px;top:617.8px;height:23px;line-height:23px;font-size:16.2px;color:#EE1111;font-weight:400;">1.13%</div>
<div class="t" style="left:1649.6px;top:643.4px;height:22px;line-height:22px;font-size:15.8px;color:#1A1A1A;font-weight:400;">彩讯股份</div>
<div class="t" style="right:116.2px;top:641.8px;height:23px;line-height:23px;font-size:16.2px;color:#EE1111;font-weight:400;">20.87</div>
<div class="t" style="right:22.4px;top:641.8px;height:23px;line-height:23px;font-size:16.2px;color:#EE1111;font-weight:400;">0.72%</div>
<div class="t" style="left:1649.6px;top:667.4px;height:22px;line-height:22px;font-size:15.8px;color:#1A1A1A;font-weight:400;">东方国信</div>
<div class="t" style="right:116.2px;top:665.8px;height:23px;line-height:23px;font-size:16.2px;color:#EE1111;font-weight:400;">10.94</div>
<div class="t" style="right:22.4px;top:665.8px;height:23px;line-height:23px;font-size:16.2px;color:#EE1111;font-weight:400;">0.46%</div>
<div class="t" style="left:1649.6px;top:691.4px;height:22px;line-height:22px;font-size:15.8px;color:#1A1A1A;font-weight:400;">华胜天成</div>
<div class="t" style="right:116.2px;top:689.8px;height:23px;line-height:23px;font-size:16.2px;color:#EE1111;font-weight:400;">6.76</div>
<div class="t" style="right:22.4px;top:689.8px;height:23px;line-height:23px;font-size:16.2px;color:#EE1111;font-weight:400;">0.45%</div>
<div class="t" style="left:1649.6px;top:715.4px;height:22px;line-height:22px;font-size:15.8px;color:#1A1A1A;font-weight:400;">熙菱信息</div>
<div class="t" style="right:116.2px;top:713.8px;height:23px;line-height:23px;font-size:16.2px;color:#EE1111;font-weight:400;">13.73</div>
<div class="t" style="right:22.4px;top:713.8px;height:23px;line-height:23px;font-size:16.2px;color:#EE1111;font-weight:400;">0.29%</div>
<div class="t" style="left:1649.6px;top:739.4px;height:22px;line-height:22px;font-size:15.8px;color:#3D6EEE;font-weight:400;">七一二</div>
<div class="t" style="right:116.2px;top:737.8px;height:23px;line-height:23px;font-size:16.2px;color:#EE1111;font-weight:400;">25.30</div>
<div class="t" style="right:22.4px;top:737.8px;height:23px;line-height:23px;font-size:16.2px;color:#EE1111;font-weight:400;">0.08%</div>
<div class="t" style="left:1649.6px;top:763.4px;height:22px;line-height:22px;font-size:15.8px;color:#1A1A1A;font-weight:400;">华宇软件</div>
<div class="t" style="right:116.2px;top:761.8px;height:23px;line-height:23px;font-size:16.2px;color:#1A9B4B;font-weight:400;">9.21</div>
<div class="t" style="right:22.4px;top:761.8px;height:23px;line-height:23px;font-size:16.2px;color:#1A9B4B;font-weight:400;">-0.11%</div>
<div class="t" style="left:1649.6px;top:787.4px;height:22px;line-height:22px;font-size:15.8px;color:#1A1A1A;font-weight:400;">科蓝软件</div>
<div class="t" style="right:116.2px;top:785.8px;height:23px;line-height:23px;font-size:16.2px;color:#1A9B4B;font-weight:400;">13.78</div>
<div class="t" style="right:22.4px;top:785.8px;height:23px;line-height:23px;font-size:16.2px;color:#1A9B4B;font-weight:400;">-0.29%</div>
<div class="t" style="left:1649.6px;top:811.4px;height:22px;line-height:22px;font-size:15.8px;color:#1A1A1A;font-weight:400;">亚联发展</div>
<div class="t" style="right:116.2px;top:809.8px;height:23px;line-height:23px;font-size:16.2px;color:#1A9B4B;font-weight:400;">5.13</div>
<div class="t" style="right:22.4px;top:809.8px;height:23px;line-height:23px;font-size:16.2px;color:#1A9B4B;font-weight:400;">-0.39%</div>
<div class="t" style="left:1649.6px;top:835.4px;height:22px;line-height:22px;font-size:15.8px;color:#1A1A1A;font-weight:400;">数字认证</div>
<div class="t" style="right:116.2px;top:833.8px;height:23px;line-height:23px;font-size:16.2px;color:#1A9B4B;font-weight:400;">29.47</div>
<div class="t" style="right:22.4px;top:833.8px;height:23px;line-height:23px;font-size:16.2px;color:#1A9B4B;font-weight:400;">-0.74%</div>
<div class="t" style="left:1649.6px;top:859.4px;height:22px;line-height:22px;font-size:15.8px;color:#1A1A1A;font-weight:400;">先进数通</div>
<div class="t" style="right:116.2px;top:857.8px;height:23px;line-height:23px;font-size:16.2px;color:#1A9B4B;font-weight:400;">15.82</div>
<div class="t" style="right:22.4px;top:857.8px;height:23px;line-height:23px;font-size:16.2px;color:#1A9B4B;font-weight:400;">-1.00%</div>
<div class="b" style="left:1642px;top:904px;width:277px;height:25px;background:#ECEEF7;"></div>
<div class="b" style="left:1642px;top:904px;width:54px;height:25px;background:#3E6FEF;"></div>
<div class="b" style="left:1751px;top:904px;width:1px;height:25px;background:#DADFEE;"></div>
<div class="b" style="left:1806px;top:904px;width:1px;height:25px;background:#DADFEE;"></div>
<div class="b" style="left:1861px;top:904px;width:1px;height:25px;background:#DADFEE;"></div>
<div class="t" style="left:1519px;width:300px;text-align:center;top:905.3px;height:22px;line-height:22px;font-size:15.6px;color:#fff;font-weight:400;">报价</div>
<div class="t" style="left:1573.5px;width:300px;text-align:center;top:905.3px;height:22px;line-height:22px;font-size:15.6px;color:#222;font-weight:400;">资金</div>
<div class="t" style="left:1628.5px;width:300px;text-align:center;top:905.3px;height:22px;line-height:22px;font-size:15.6px;color:#222;font-weight:400;">贡献</div>
<div class="t" style="left:1683.5px;width:300px;text-align:center;top:905.3px;height:22px;line-height:22px;font-size:15.6px;color:#222;font-weight:400;">分价</div>
<div class="t" style="left:1740px;width:300px;text-align:center;top:905.3px;height:22px;line-height:22px;font-size:15.6px;color:#222;font-weight:400;">筹码</div>
</body></html>
